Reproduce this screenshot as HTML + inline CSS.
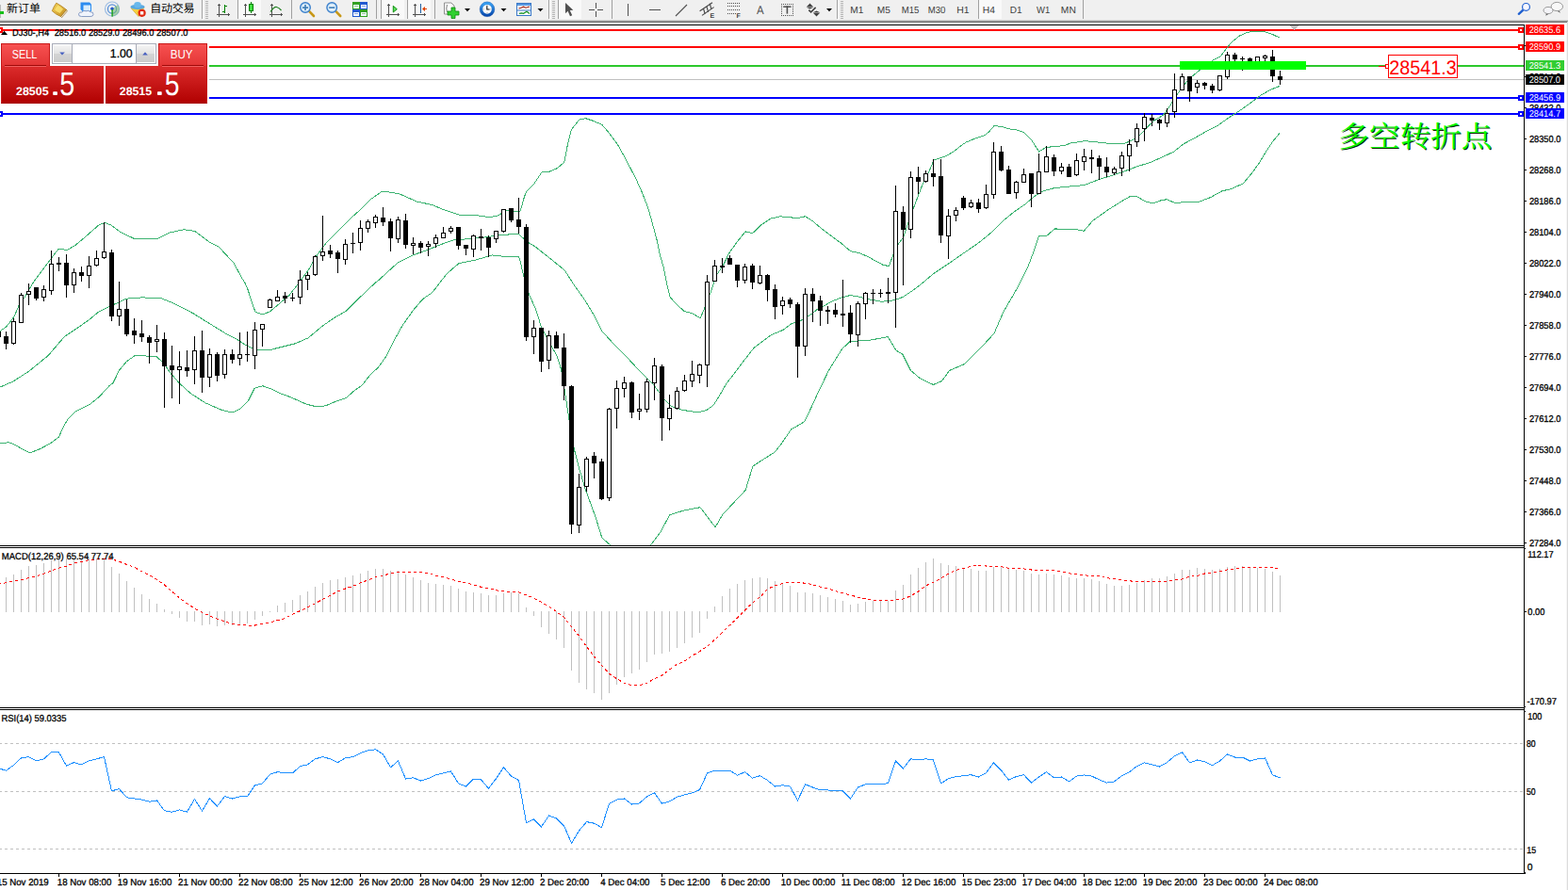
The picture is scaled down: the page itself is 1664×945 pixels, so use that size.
<!DOCTYPE html>
<html><head><meta charset="utf-8"><title>DJ30-,H4</title>
<style>
html,body{margin:0;padding:0;background:#fff;}
body{width:1664px;height:945px;overflow:hidden;font-family:"Liberation Sans",sans-serif;}
svg{display:block;position:absolute;left:0;top:0;}
svg text{font-family:"Liberation Sans",sans-serif;text-rendering:geometricPrecision;}
</style></head><body>
<svg width="1664" height="945" viewBox="0 0 1664 945">
<rect x="0" y="0" width="1664" height="945" fill="#fff"/>
<g shape-rendering="crispEdges">
<rect x="0" y="26" width="1618" height="1" fill="#000"/>
<rect x="1617" y="26" width="1" height="902" fill="#000"/>
<rect x="0" y="579" width="1618" height="1" fill="#000"/>
<rect x="0" y="581" width="1618" height="1" fill="#000"/>
<rect x="0" y="751" width="1618" height="1" fill="#000"/>
<rect x="0" y="753" width="1618" height="1" fill="#000"/>
<rect x="0" y="927" width="1619" height="1" fill="#000"/>
<defs><clipPath id="cm"><rect x="0" y="27" width="1617" height="552"/></clipPath><clipPath id="c2"><rect x="0" y="582" width="1617" height="169"/></clipPath><clipPath id="c3"><rect x="0" y="754" width="1617" height="173"/></clipPath></defs>
<rect x="222" y="84" width="1395" height="1" fill="#c0c0c0"/>
<rect x="0" y="31" width="1617" height="2" fill="#ff0000"/>
<rect x="222" y="49" width="1395" height="2" fill="#ff0000"/>
<rect x="222" y="69" width="1395" height="2" fill="#2cc82c"/>
<rect x="222" y="103" width="1395" height="2" fill="#0000ff"/>
<rect x="0" y="120" width="1617" height="2" fill="#0000ff"/>
<g clip-path="url(#cm)">
<polyline points="-1.5,352.5 0.5,351.2 6.8,346.9 14.8,336.5 20.3,323.9 25.9,316.0 34.6,300.9 43.4,289.0 52.9,276.3 61.6,264.9 66.4,264.4 70.3,266.0 79.9,260.4 89.4,252.5 98.9,244.2 104.5,239.2 111.3,236.4 118.2,239.2 127.3,246.0 143.2,253.9 154.5,253.3 165.9,253.9 179.5,247.1 195.5,243.7 206.9,245.5 222.8,257.4 231.9,261.9 247.9,279.0 256.5,294.9 260.0,300.5 263.4,308.5 266.7,319.1 271.0,331.3 278.6,333.9 286.2,331.0 296.4,322.5 302.0,317.7 306.5,314.0 313.4,305.2 327.1,287.0 336.2,271.1 347.5,256.3 358.9,244.9 370.3,233.5 381.7,223.3 393.1,211.9 404.4,203.9 410.5,203.5 416.5,204.6 424.4,206.1 442.6,214.1 458.6,217.5 472.2,223.2 488.2,228.4 506.4,228.8 520.0,230.7 529.1,228.8 535.9,223.8 552.0,224.3 554.2,217.5 556.5,208.7 559.0,202.8 566.7,195.2 574.8,183.0 583.6,182.0 591.2,178.7 598.8,172.3 602.2,154.5 606.4,137.6 614.9,126.9 621.7,125.7 629.3,128.3 638.6,132.2 646.2,141.0 655.6,153.7 664.9,170.6 675.0,190.1 681.8,205.3 687.7,220.6 692.0,235.8 697.0,254.4 700.4,270.5 704.5,285.1 707.5,300.5 711.3,315.8 718.5,323.5 726.1,330.6 734.1,332.4 743.2,337.9 747.7,327.2 753.4,312.4 757.5,300.5 760.5,292.1 767.3,281.9 774.0,268.4 782.5,256.5 791.0,245.9 798.6,247.7 807.9,238.8 818.1,232.0 828.2,229.8 836.7,230.6 846.0,231.6 854.5,229.8 862.1,234.5 872.3,243.0 882.4,250.6 892.6,258.2 902.7,266.7 911.2,268.4 920.5,272.3 925.1,274.8 936.5,281.0 943.3,282.7 948.4,269.2 953.4,259.0 958.5,252.3 964.4,235.3 970.4,218.4 978.8,196.4 985.6,182.8 991.0,170.1 1004.2,165.6 1012.7,160.5 1020.5,154.2 1024.7,151.3 1030.7,148.7 1037.4,146.2 1045.9,143.2 1050.1,139.4 1054.8,133.9 1058.6,133.9 1064.5,134.8 1071.3,136.9 1079.7,138.1 1086.5,140.7 1095.0,149.1 1102.6,161.0 1110.2,156.3 1122.0,155.5 1130.5,154.2 1135.9,152.1 1151.1,149.6 1164.7,151.0 1179.9,152.7 1193.5,152.1 1200.3,149.6 1207.0,145.4 1213.8,139.4 1218.9,133.5 1225.6,127.6 1234.1,122.5 1239.3,115.9 1246.9,104.1 1254.5,92.2 1263.0,82.9 1273.1,74.4 1286.7,64.3 1295.1,60.1 1300.2,53.3 1307.0,44.8 1315.5,38.0 1323.9,34.3 1330.7,33.3 1340.9,33.3 1349.3,36.0 1358.1,40.1" fill="none" stroke="#3cb371" stroke-width="1" />
<polyline points="-1.5,411.5 0.5,410.9 14.0,405.0 31.0,394.0 49.6,378.8 52.9,375.5 68.2,357.6 83.0,347.7 95.3,339.0 104.5,331.3 118.2,324.5 134.1,317.2 150.0,315.9 170.5,316.5 181.9,321.1 204.6,332.5 231.9,349.5 240.5,354.7 250.7,359.8 260.8,366.5 267.6,369.9 274.4,372.0 286.2,371.6 299.8,368.2 313.3,364.8 326.9,358.9 342.1,346.2 355.6,336.9 367.5,330.1 381.0,316.6 398.0,300.5 402.2,297.2 408.5,291.4 422.2,278.9 438.1,270.9 454.0,265.3 467.7,259.6 481.3,255.0 499.5,253.4 517.7,251.6 531.4,249.3 550.7,248.6 558.7,256.2 568.5,262.3 586.6,276.7 599.2,286.9 609.4,302.9 620.8,318.8 631.0,335.9 639.0,351.8 650.4,364.3 664.0,378.0 679.9,395.0 693.6,408.7 705.7,424.7 712.5,431.5 724.4,435.4 741.3,437.9 749.8,435.4 756.8,430.7 763.3,420.5 770.5,408.0 784.2,389.8 800.1,369.3 818.3,355.6 830.8,350.5 840.1,343.7 848.5,341.2 856.5,336.5 862.8,332.3 867.1,328.6 873.4,325.4 883.0,319.8 892.5,316.2 902.0,313.6 907.3,314.3 913.6,315.6 924.2,318.2 934.8,320.1 944.3,319.8 951.7,317.8 958.1,315.4 965.5,310.6 972.9,305.3 978.2,301.1 990.9,290.5 1007.6,279.3 1024.5,267.5 1038.1,258.2 1051.6,247.2 1063.5,235.3 1077.0,224.3 1088.5,216.5 1097.0,208.9 1107.1,202.9 1119.0,199.6 1135.9,197.9 1151.1,196.5 1164.7,191.1 1178.2,186.9 1193.5,181.8 1207.0,176.7 1220.6,172.5 1234.1,166.5 1245.7,161.1 1255.9,152.9 1266.4,147.3 1279.9,139.6 1291.8,133.7 1303.6,125.2 1315.5,117.6 1327.3,109.2 1337.5,101.5 1347.6,95.6 1358.1,91.4" fill="none" stroke="#3cb371" stroke-width="1" />
<polyline points="-1.5,470.9 0.5,470.7 9.0,469.8 14.0,471.4 22.5,476.1 31.8,480.9 42.8,476.5 53.0,471.0 62.3,464.3 66.5,455.0 71.6,445.6 80.1,436.8 95.3,429.5 105.5,421.1 115.9,409.8 119.9,406.7 126.6,393.1 134.3,383.8 142.7,377.9 152.9,377.9 165.9,378.5 172.8,384.8 181.9,397.3 191.0,407.6 202.4,417.8 218.3,428.0 234.2,434.9 240.5,436.8 247.3,437.6 254.9,434.3 263.4,425.8 270.1,412.3 278.6,409.7 286.2,412.3 296.4,417.3 308.2,421.6 325.2,429.2 335.3,431.7 345.5,430.9 357.3,425.8 367.5,422.4 376.0,414.8 384.4,408.9 392.9,397.9 401.4,390.2 409.8,378.4 418.3,361.5 426.7,346.2 438.6,329.3 448.8,317.4 458.6,310.8 466.5,300.5 474.5,290.3 487.0,279.6 504.1,276.2 522.3,270.9 535.9,272.5 550.7,272.8 552.5,279.0 555.9,293.8 561.6,313.1 568.4,327.9 574.1,346.1 582.1,362.1 591.2,378.0 595.7,392.8 599.2,414.4 603.8,444.5 609.3,476.8 615.2,499.3 621.0,518.9 631.8,548.3 638.7,570.8 648.5,579.5 660.5,592.5 678.5,592.5 690.5,578.8 700.7,565.3 710.8,546.6 724.4,542.4 743.0,538.7 759.1,559.7 766.7,546.6 778.5,533.9 791.2,520.4 798.9,495.0 810.7,487.4 822.6,479.8 829.7,470.5 839.5,456.1 853.9,447.6 864.5,425.0 866.5,420.5 879.4,393.4 893.6,370.5 902.2,362.5 922.2,361.4 942.2,357.6 950.8,371.9 957.9,376.2 966.5,393.4 976.5,401.9 990.5,408.5 999.6,404.5 1007.6,393.4 1022.7,387.0 1040.8,369.3 1054.9,354.2 1064.9,331.1 1079.0,306.9 1091.1,282.8 1097.1,266.7 1102.8,250.0 1111.2,250.0 1119.2,243.0 1139.3,243.1 1150.3,245.3 1159.6,234.3 1176.5,222.4 1190.1,213.9 1198.6,208.9 1207.0,208.9 1215.5,213.9 1224.0,216.0 1230.5,213.2 1238.1,211.7 1247.6,215.7 1258.4,214.2 1271.1,214.8 1285.1,209.4 1296.5,203.0 1306.7,200.5 1319.4,194.8 1328.3,184.0 1335.9,173.8 1343.5,161.1 1351.1,149.7 1358.1,141.4" fill="none" stroke="#3cb371" stroke-width="1" />
<rect x="-2" y="352" width="1" height="6" fill="#000"/>
<rect x="-4" y="352" width="5" height="6" fill="#000"/>
<rect x="6" y="352" width="1" height="19" fill="#000"/>
<rect x="4" y="357" width="5" height="8" fill="#000"/>
<rect x="14" y="338" width="1" height="28" fill="#000"/>
<rect x="12" y="341" width="5" height="24" fill="#000"/>
<rect x="13" y="342" width="3" height="22" fill="#fff"/>
<rect x="22" y="311" width="1" height="32" fill="#000"/>
<rect x="20" y="313" width="5" height="30" fill="#000"/>
<rect x="21" y="314" width="3" height="28" fill="#fff"/>
<rect x="30" y="301" width="1" height="23" fill="#000"/>
<rect x="28" y="309" width="5" height="4" fill="#000"/>
<rect x="29" y="310" width="3" height="2" fill="#fff"/>
<rect x="38" y="305" width="1" height="14" fill="#000"/>
<rect x="36" y="305" width="5" height="12" fill="#000"/>
<rect x="46" y="303" width="1" height="17" fill="#000"/>
<rect x="44" y="307" width="5" height="9" fill="#000"/>
<rect x="45" y="308" width="3" height="7" fill="#fff"/>
<rect x="54" y="266" width="1" height="47" fill="#000"/>
<rect x="52" y="280" width="5" height="29" fill="#000"/>
<rect x="53" y="281" width="3" height="27" fill="#fff"/>
<rect x="62" y="273" width="1" height="15" fill="#000"/>
<rect x="60" y="279" width="5" height="2" fill="#000"/>
<rect x="70" y="270" width="1" height="46" fill="#000"/>
<rect x="68" y="279" width="5" height="24" fill="#000"/>
<rect x="78" y="285" width="1" height="26" fill="#000"/>
<rect x="76" y="289" width="5" height="14" fill="#000"/>
<rect x="77" y="290" width="3" height="12" fill="#fff"/>
<rect x="86" y="283" width="1" height="16" fill="#000"/>
<rect x="84" y="289" width="5" height="4" fill="#000"/>
<rect x="94" y="272" width="1" height="34" fill="#000"/>
<rect x="92" y="282" width="5" height="11" fill="#000"/>
<rect x="93" y="283" width="3" height="9" fill="#fff"/>
<rect x="102" y="266" width="1" height="17" fill="#000"/>
<rect x="100" y="274" width="5" height="8" fill="#000"/>
<rect x="101" y="275" width="3" height="6" fill="#fff"/>
<rect x="110" y="236" width="1" height="39" fill="#000"/>
<rect x="108" y="267" width="5" height="7" fill="#000"/>
<rect x="109" y="268" width="3" height="5" fill="#fff"/>
<rect x="118" y="265" width="1" height="76" fill="#000"/>
<rect x="116" y="268" width="5" height="68" fill="#000"/>
<rect x="126" y="299" width="1" height="47" fill="#000"/>
<rect x="124" y="328" width="5" height="8" fill="#000"/>
<rect x="125" y="329" width="3" height="6" fill="#fff"/>
<rect x="134" y="318" width="1" height="39" fill="#000"/>
<rect x="132" y="328" width="5" height="27" fill="#000"/>
<rect x="142" y="338" width="1" height="27" fill="#000"/>
<rect x="140" y="351" width="5" height="5" fill="#000"/>
<rect x="150" y="340" width="1" height="23" fill="#000"/>
<rect x="148" y="354" width="5" height="4" fill="#000"/>
<rect x="158" y="356" width="1" height="30" fill="#000"/>
<rect x="156" y="358" width="5" height="6" fill="#000"/>
<rect x="166" y="345" width="1" height="29" fill="#000"/>
<rect x="164" y="360" width="5" height="3" fill="#000"/>
<rect x="165" y="361" width="3" height="1" fill="#fff"/>
<rect x="174" y="353" width="1" height="80" fill="#000"/>
<rect x="172" y="360" width="5" height="29" fill="#000"/>
<rect x="182" y="367" width="1" height="56" fill="#000"/>
<rect x="180" y="388" width="5" height="5" fill="#000"/>
<rect x="190" y="373" width="1" height="56" fill="#000"/>
<rect x="188" y="389" width="5" height="4" fill="#000"/>
<rect x="189" y="390" width="3" height="2" fill="#fff"/>
<rect x="198" y="372" width="1" height="28" fill="#000"/>
<rect x="196" y="390" width="5" height="4" fill="#000"/>
<rect x="206" y="357" width="1" height="51" fill="#000"/>
<rect x="204" y="372" width="5" height="21" fill="#000"/>
<rect x="205" y="373" width="3" height="19" fill="#fff"/>
<rect x="214" y="351" width="1" height="66" fill="#000"/>
<rect x="212" y="372" width="5" height="29" fill="#000"/>
<rect x="222" y="370" width="1" height="41" fill="#000"/>
<rect x="220" y="376" width="5" height="25" fill="#000"/>
<rect x="221" y="377" width="3" height="23" fill="#fff"/>
<rect x="230" y="374" width="1" height="31" fill="#000"/>
<rect x="228" y="376" width="5" height="23" fill="#000"/>
<rect x="238" y="371" width="1" height="31" fill="#000"/>
<rect x="236" y="376" width="5" height="22" fill="#000"/>
<rect x="237" y="377" width="3" height="20" fill="#fff"/>
<rect x="246" y="371" width="1" height="15" fill="#000"/>
<rect x="244" y="376" width="5" height="6" fill="#000"/>
<rect x="254" y="353" width="1" height="35" fill="#000"/>
<rect x="252" y="376" width="5" height="5" fill="#000"/>
<rect x="253" y="377" width="3" height="3" fill="#fff"/>
<rect x="262" y="352" width="1" height="32" fill="#000"/>
<rect x="260" y="376" width="5" height="1" fill="#000"/>
<rect x="270" y="342" width="1" height="50" fill="#000"/>
<rect x="268" y="350" width="5" height="28" fill="#000"/>
<rect x="269" y="351" width="3" height="26" fill="#fff"/>
<rect x="278" y="344" width="1" height="24" fill="#000"/>
<rect x="276" y="344" width="5" height="6" fill="#000"/>
<rect x="277" y="345" width="3" height="4" fill="#fff"/>
<rect x="286" y="317" width="1" height="10" fill="#000"/>
<rect x="284" y="318" width="5" height="9" fill="#000"/>
<rect x="285" y="319" width="3" height="7" fill="#fff"/>
<rect x="294" y="308" width="1" height="12" fill="#000"/>
<rect x="292" y="315" width="5" height="5" fill="#000"/>
<rect x="293" y="316" width="3" height="3" fill="#fff"/>
<rect x="302" y="310" width="1" height="12" fill="#000"/>
<rect x="300" y="314" width="5" height="3" fill="#000"/>
<rect x="310" y="311" width="1" height="9" fill="#000"/>
<rect x="308" y="316" width="5" height="1" fill="#000"/>
<rect x="318" y="287" width="1" height="36" fill="#000"/>
<rect x="316" y="297" width="5" height="19" fill="#000"/>
<rect x="317" y="298" width="3" height="17" fill="#fff"/>
<rect x="326" y="289" width="1" height="19" fill="#000"/>
<rect x="324" y="292" width="5" height="5" fill="#000"/>
<rect x="325" y="293" width="3" height="3" fill="#fff"/>
<rect x="334" y="271" width="1" height="22" fill="#000"/>
<rect x="332" y="272" width="5" height="20" fill="#000"/>
<rect x="333" y="273" width="3" height="18" fill="#fff"/>
<rect x="342" y="229" width="1" height="48" fill="#000"/>
<rect x="340" y="267" width="5" height="5" fill="#000"/>
<rect x="341" y="268" width="3" height="3" fill="#fff"/>
<rect x="350" y="260" width="1" height="14" fill="#000"/>
<rect x="348" y="266" width="5" height="4" fill="#000"/>
<rect x="358" y="266" width="1" height="24" fill="#000"/>
<rect x="356" y="268" width="5" height="7" fill="#000"/>
<rect x="366" y="254" width="1" height="27" fill="#000"/>
<rect x="364" y="259" width="5" height="17" fill="#000"/>
<rect x="365" y="260" width="3" height="15" fill="#fff"/>
<rect x="374" y="247" width="1" height="22" fill="#000"/>
<rect x="372" y="258" width="5" height="1" fill="#000"/>
<rect x="382" y="234" width="1" height="32" fill="#000"/>
<rect x="380" y="242" width="5" height="16" fill="#000"/>
<rect x="381" y="243" width="3" height="14" fill="#fff"/>
<rect x="390" y="233" width="1" height="14" fill="#000"/>
<rect x="388" y="235" width="5" height="8" fill="#000"/>
<rect x="389" y="236" width="3" height="6" fill="#fff"/>
<rect x="398" y="228" width="1" height="14" fill="#000"/>
<rect x="396" y="230" width="5" height="7" fill="#000"/>
<rect x="397" y="231" width="3" height="5" fill="#fff"/>
<rect x="406" y="220" width="1" height="20" fill="#000"/>
<rect x="404" y="231" width="5" height="5" fill="#000"/>
<rect x="414" y="232" width="1" height="35" fill="#000"/>
<rect x="412" y="235" width="5" height="18" fill="#000"/>
<rect x="422" y="230" width="1" height="28" fill="#000"/>
<rect x="420" y="233" width="5" height="21" fill="#000"/>
<rect x="421" y="234" width="3" height="19" fill="#fff"/>
<rect x="430" y="227" width="1" height="37" fill="#000"/>
<rect x="428" y="234" width="5" height="26" fill="#000"/>
<rect x="438" y="252" width="1" height="18" fill="#000"/>
<rect x="436" y="258" width="5" height="3" fill="#000"/>
<rect x="437" y="259" width="3" height="1" fill="#fff"/>
<rect x="446" y="256" width="1" height="13" fill="#000"/>
<rect x="444" y="258" width="5" height="5" fill="#000"/>
<rect x="454" y="256" width="1" height="16" fill="#000"/>
<rect x="452" y="259" width="5" height="3" fill="#000"/>
<rect x="453" y="260" width="3" height="1" fill="#fff"/>
<rect x="462" y="249" width="1" height="14" fill="#000"/>
<rect x="460" y="252" width="5" height="7" fill="#000"/>
<rect x="461" y="253" width="3" height="5" fill="#fff"/>
<rect x="470" y="241" width="1" height="12" fill="#000"/>
<rect x="468" y="247" width="5" height="6" fill="#000"/>
<rect x="469" y="248" width="3" height="4" fill="#fff"/>
<rect x="478" y="240" width="1" height="8" fill="#000"/>
<rect x="476" y="242" width="5" height="4" fill="#000"/>
<rect x="477" y="243" width="3" height="2" fill="#fff"/>
<rect x="486" y="241" width="1" height="24" fill="#000"/>
<rect x="484" y="241" width="5" height="20" fill="#000"/>
<rect x="494" y="260" width="1" height="11" fill="#000"/>
<rect x="492" y="260" width="5" height="4" fill="#000"/>
<rect x="502" y="249" width="1" height="24" fill="#000"/>
<rect x="500" y="250" width="5" height="15" fill="#000"/>
<rect x="501" y="251" width="3" height="13" fill="#fff"/>
<rect x="510" y="243" width="1" height="23" fill="#000"/>
<rect x="508" y="251" width="5" height="2" fill="#000"/>
<rect x="518" y="250" width="1" height="23" fill="#000"/>
<rect x="516" y="252" width="5" height="11" fill="#000"/>
<rect x="526" y="245" width="1" height="13" fill="#000"/>
<rect x="524" y="245" width="5" height="9" fill="#000"/>
<rect x="525" y="246" width="3" height="7" fill="#fff"/>
<rect x="534" y="222" width="1" height="25" fill="#000"/>
<rect x="532" y="222" width="5" height="24" fill="#000"/>
<rect x="533" y="223" width="3" height="22" fill="#fff"/>
<rect x="542" y="221" width="1" height="15" fill="#000"/>
<rect x="540" y="221" width="5" height="13" fill="#000"/>
<rect x="550" y="210" width="1" height="38" fill="#000"/>
<rect x="548" y="233" width="5" height="8" fill="#000"/>
<rect x="558" y="238" width="1" height="124" fill="#000"/>
<rect x="556" y="241" width="5" height="117" fill="#000"/>
<rect x="566" y="340" width="1" height="36" fill="#000"/>
<rect x="564" y="348" width="5" height="10" fill="#000"/>
<rect x="565" y="349" width="3" height="8" fill="#fff"/>
<rect x="574" y="348" width="1" height="47" fill="#000"/>
<rect x="572" y="348" width="5" height="36" fill="#000"/>
<rect x="582" y="351" width="1" height="41" fill="#000"/>
<rect x="580" y="356" width="5" height="27" fill="#000"/>
<rect x="581" y="357" width="3" height="25" fill="#fff"/>
<rect x="590" y="352" width="1" height="18" fill="#000"/>
<rect x="588" y="356" width="5" height="14" fill="#000"/>
<rect x="598" y="354" width="1" height="71" fill="#000"/>
<rect x="596" y="369" width="5" height="41" fill="#000"/>
<rect x="606" y="409" width="1" height="158" fill="#000"/>
<rect x="604" y="410" width="5" height="147" fill="#000"/>
<rect x="614" y="503" width="1" height="63" fill="#000"/>
<rect x="612" y="517" width="5" height="41" fill="#000"/>
<rect x="613" y="518" width="3" height="39" fill="#fff"/>
<rect x="622" y="485" width="1" height="37" fill="#000"/>
<rect x="620" y="487" width="5" height="30" fill="#000"/>
<rect x="621" y="488" width="3" height="28" fill="#fff"/>
<rect x="630" y="480" width="1" height="28" fill="#000"/>
<rect x="628" y="484" width="5" height="8" fill="#000"/>
<rect x="638" y="487" width="1" height="44" fill="#000"/>
<rect x="636" y="490" width="5" height="40" fill="#000"/>
<rect x="646" y="433" width="1" height="99" fill="#000"/>
<rect x="644" y="434" width="5" height="95" fill="#000"/>
<rect x="645" y="435" width="3" height="93" fill="#fff"/>
<rect x="654" y="404" width="1" height="51" fill="#000"/>
<rect x="652" y="412" width="5" height="22" fill="#000"/>
<rect x="653" y="413" width="3" height="20" fill="#fff"/>
<rect x="662" y="400" width="1" height="22" fill="#000"/>
<rect x="660" y="406" width="5" height="7" fill="#000"/>
<rect x="661" y="407" width="3" height="5" fill="#fff"/>
<rect x="670" y="405" width="1" height="39" fill="#000"/>
<rect x="668" y="406" width="5" height="32" fill="#000"/>
<rect x="678" y="418" width="1" height="28" fill="#000"/>
<rect x="676" y="434" width="5" height="3" fill="#000"/>
<rect x="677" y="435" width="3" height="1" fill="#fff"/>
<rect x="686" y="402" width="1" height="36" fill="#000"/>
<rect x="684" y="405" width="5" height="30" fill="#000"/>
<rect x="685" y="406" width="3" height="28" fill="#fff"/>
<rect x="694" y="380" width="1" height="45" fill="#000"/>
<rect x="692" y="388" width="5" height="19" fill="#000"/>
<rect x="693" y="389" width="3" height="17" fill="#fff"/>
<rect x="702" y="387" width="1" height="81" fill="#000"/>
<rect x="700" y="389" width="5" height="55" fill="#000"/>
<rect x="710" y="419" width="1" height="38" fill="#000"/>
<rect x="708" y="433" width="5" height="12" fill="#000"/>
<rect x="709" y="434" width="3" height="10" fill="#fff"/>
<rect x="718" y="411" width="1" height="24" fill="#000"/>
<rect x="716" y="415" width="5" height="19" fill="#000"/>
<rect x="717" y="416" width="3" height="17" fill="#fff"/>
<rect x="726" y="398" width="1" height="18" fill="#000"/>
<rect x="724" y="404" width="5" height="11" fill="#000"/>
<rect x="725" y="405" width="3" height="9" fill="#fff"/>
<rect x="734" y="383" width="1" height="28" fill="#000"/>
<rect x="732" y="397" width="5" height="8" fill="#000"/>
<rect x="733" y="398" width="3" height="6" fill="#fff"/>
<rect x="742" y="386" width="1" height="21" fill="#000"/>
<rect x="740" y="387" width="5" height="12" fill="#000"/>
<rect x="741" y="388" width="3" height="10" fill="#fff"/>
<rect x="750" y="292" width="1" height="119" fill="#000"/>
<rect x="748" y="299" width="5" height="89" fill="#000"/>
<rect x="749" y="300" width="3" height="87" fill="#fff"/>
<rect x="758" y="276" width="1" height="23" fill="#000"/>
<rect x="756" y="282" width="5" height="17" fill="#000"/>
<rect x="757" y="283" width="3" height="15" fill="#fff"/>
<rect x="766" y="274" width="1" height="16" fill="#000"/>
<rect x="764" y="282" width="5" height="2" fill="#000"/>
<rect x="774" y="271" width="1" height="10" fill="#000"/>
<rect x="772" y="274" width="5" height="7" fill="#000"/>
<rect x="782" y="281" width="1" height="24" fill="#000"/>
<rect x="780" y="281" width="5" height="17" fill="#000"/>
<rect x="790" y="280" width="1" height="21" fill="#000"/>
<rect x="788" y="283" width="5" height="15" fill="#000"/>
<rect x="789" y="284" width="3" height="13" fill="#fff"/>
<rect x="798" y="280" width="1" height="27" fill="#000"/>
<rect x="796" y="282" width="5" height="18" fill="#000"/>
<rect x="806" y="282" width="1" height="20" fill="#000"/>
<rect x="804" y="292" width="5" height="9" fill="#000"/>
<rect x="805" y="293" width="3" height="7" fill="#fff"/>
<rect x="814" y="291" width="1" height="29" fill="#000"/>
<rect x="812" y="292" width="5" height="16" fill="#000"/>
<rect x="822" y="302" width="1" height="37" fill="#000"/>
<rect x="820" y="307" width="5" height="19" fill="#000"/>
<rect x="830" y="315" width="1" height="19" fill="#000"/>
<rect x="828" y="319" width="5" height="6" fill="#000"/>
<rect x="829" y="320" width="3" height="4" fill="#fff"/>
<rect x="838" y="316" width="1" height="11" fill="#000"/>
<rect x="836" y="318" width="5" height="5" fill="#000"/>
<rect x="846" y="321" width="1" height="80" fill="#000"/>
<rect x="844" y="323" width="5" height="45" fill="#000"/>
<rect x="854" y="306" width="1" height="72" fill="#000"/>
<rect x="852" y="312" width="5" height="56" fill="#000"/>
<rect x="853" y="313" width="3" height="54" fill="#fff"/>
<rect x="862" y="306" width="1" height="36" fill="#000"/>
<rect x="860" y="312" width="5" height="8" fill="#000"/>
<rect x="870" y="314" width="1" height="32" fill="#000"/>
<rect x="868" y="319" width="5" height="11" fill="#000"/>
<rect x="878" y="325" width="1" height="19" fill="#000"/>
<rect x="876" y="329" width="5" height="2" fill="#000"/>
<rect x="886" y="322" width="1" height="15" fill="#000"/>
<rect x="884" y="329" width="5" height="5" fill="#000"/>
<rect x="894" y="297" width="1" height="50" fill="#000"/>
<rect x="892" y="333" width="5" height="2" fill="#000"/>
<rect x="902" y="324" width="1" height="40" fill="#000"/>
<rect x="900" y="332" width="5" height="23" fill="#000"/>
<rect x="910" y="320" width="1" height="48" fill="#000"/>
<rect x="908" y="322" width="5" height="34" fill="#000"/>
<rect x="909" y="323" width="3" height="32" fill="#fff"/>
<rect x="918" y="310" width="1" height="29" fill="#000"/>
<rect x="916" y="311" width="5" height="12" fill="#000"/>
<rect x="917" y="312" width="3" height="10" fill="#fff"/>
<rect x="926" y="307" width="1" height="16" fill="#000"/>
<rect x="924" y="311" width="5" height="1" fill="#000"/>
<rect x="934" y="307" width="1" height="9" fill="#000"/>
<rect x="932" y="311" width="5" height="1" fill="#000"/>
<rect x="942" y="295" width="1" height="27" fill="#000"/>
<rect x="940" y="310" width="5" height="2" fill="#000"/>
<rect x="950" y="197" width="1" height="151" fill="#000"/>
<rect x="948" y="224" width="5" height="87" fill="#000"/>
<rect x="949" y="225" width="3" height="85" fill="#fff"/>
<rect x="958" y="219" width="1" height="84" fill="#000"/>
<rect x="956" y="225" width="5" height="19" fill="#000"/>
<rect x="966" y="182" width="1" height="71" fill="#000"/>
<rect x="964" y="188" width="5" height="56" fill="#000"/>
<rect x="965" y="189" width="3" height="54" fill="#fff"/>
<rect x="974" y="177" width="1" height="29" fill="#000"/>
<rect x="972" y="188" width="5" height="5" fill="#000"/>
<rect x="982" y="181" width="1" height="13" fill="#000"/>
<rect x="980" y="184" width="5" height="9" fill="#000"/>
<rect x="981" y="185" width="3" height="7" fill="#fff"/>
<rect x="990" y="169" width="1" height="29" fill="#000"/>
<rect x="988" y="184" width="5" height="4" fill="#000"/>
<rect x="998" y="169" width="1" height="89" fill="#000"/>
<rect x="996" y="187" width="5" height="63" fill="#000"/>
<rect x="1006" y="222" width="1" height="53" fill="#000"/>
<rect x="1004" y="229" width="5" height="22" fill="#000"/>
<rect x="1005" y="230" width="3" height="20" fill="#fff"/>
<rect x="1014" y="220" width="1" height="15" fill="#000"/>
<rect x="1012" y="223" width="5" height="6" fill="#000"/>
<rect x="1013" y="224" width="3" height="4" fill="#fff"/>
<rect x="1022" y="208" width="1" height="15" fill="#000"/>
<rect x="1020" y="210" width="5" height="11" fill="#000"/>
<rect x="1030" y="212" width="1" height="9" fill="#000"/>
<rect x="1028" y="215" width="5" height="5" fill="#000"/>
<rect x="1029" y="216" width="3" height="3" fill="#fff"/>
<rect x="1038" y="211" width="1" height="15" fill="#000"/>
<rect x="1036" y="215" width="5" height="7" fill="#000"/>
<rect x="1046" y="196" width="1" height="26" fill="#000"/>
<rect x="1044" y="206" width="5" height="15" fill="#000"/>
<rect x="1045" y="207" width="3" height="13" fill="#fff"/>
<rect x="1054" y="151" width="1" height="60" fill="#000"/>
<rect x="1052" y="161" width="5" height="46" fill="#000"/>
<rect x="1053" y="162" width="3" height="44" fill="#fff"/>
<rect x="1062" y="155" width="1" height="27" fill="#000"/>
<rect x="1060" y="161" width="5" height="20" fill="#000"/>
<rect x="1070" y="176" width="1" height="30" fill="#000"/>
<rect x="1068" y="180" width="5" height="26" fill="#000"/>
<rect x="1078" y="192" width="1" height="19" fill="#000"/>
<rect x="1076" y="193" width="5" height="12" fill="#000"/>
<rect x="1077" y="194" width="3" height="10" fill="#fff"/>
<rect x="1086" y="179" width="1" height="15" fill="#000"/>
<rect x="1084" y="185" width="5" height="9" fill="#000"/>
<rect x="1085" y="186" width="3" height="7" fill="#fff"/>
<rect x="1094" y="184" width="1" height="36" fill="#000"/>
<rect x="1092" y="184" width="5" height="22" fill="#000"/>
<rect x="1102" y="163" width="1" height="43" fill="#000"/>
<rect x="1100" y="182" width="5" height="24" fill="#000"/>
<rect x="1101" y="183" width="3" height="22" fill="#fff"/>
<rect x="1110" y="155" width="1" height="28" fill="#000"/>
<rect x="1108" y="166" width="5" height="17" fill="#000"/>
<rect x="1109" y="167" width="3" height="15" fill="#fff"/>
<rect x="1118" y="164" width="1" height="23" fill="#000"/>
<rect x="1116" y="167" width="5" height="15" fill="#000"/>
<rect x="1126" y="173" width="1" height="12" fill="#000"/>
<rect x="1124" y="177" width="5" height="5" fill="#000"/>
<rect x="1125" y="178" width="3" height="3" fill="#fff"/>
<rect x="1134" y="174" width="1" height="14" fill="#000"/>
<rect x="1132" y="177" width="5" height="11" fill="#000"/>
<rect x="1142" y="163" width="1" height="24" fill="#000"/>
<rect x="1140" y="170" width="5" height="16" fill="#000"/>
<rect x="1141" y="171" width="3" height="14" fill="#fff"/>
<rect x="1150" y="158" width="1" height="23" fill="#000"/>
<rect x="1148" y="166" width="5" height="6" fill="#000"/>
<rect x="1149" y="167" width="3" height="4" fill="#fff"/>
<rect x="1158" y="159" width="1" height="25" fill="#000"/>
<rect x="1156" y="167" width="5" height="2" fill="#000"/>
<rect x="1166" y="165" width="1" height="26" fill="#000"/>
<rect x="1164" y="168" width="5" height="9" fill="#000"/>
<rect x="1174" y="167" width="1" height="21" fill="#000"/>
<rect x="1172" y="177" width="5" height="6" fill="#000"/>
<rect x="1182" y="177" width="1" height="9" fill="#000"/>
<rect x="1180" y="179" width="5" height="5" fill="#000"/>
<rect x="1181" y="180" width="3" height="3" fill="#fff"/>
<rect x="1190" y="161" width="1" height="26" fill="#000"/>
<rect x="1188" y="165" width="5" height="14" fill="#000"/>
<rect x="1189" y="166" width="3" height="12" fill="#fff"/>
<rect x="1198" y="148" width="1" height="34" fill="#000"/>
<rect x="1196" y="153" width="5" height="13" fill="#000"/>
<rect x="1197" y="154" width="3" height="11" fill="#fff"/>
<rect x="1206" y="131" width="1" height="25" fill="#000"/>
<rect x="1204" y="136" width="5" height="15" fill="#000"/>
<rect x="1205" y="137" width="3" height="13" fill="#fff"/>
<rect x="1214" y="120" width="1" height="30" fill="#000"/>
<rect x="1212" y="124" width="5" height="13" fill="#000"/>
<rect x="1213" y="125" width="3" height="11" fill="#fff"/>
<rect x="1222" y="121" width="1" height="13" fill="#000"/>
<rect x="1220" y="125" width="5" height="3" fill="#000"/>
<rect x="1230" y="126" width="1" height="12" fill="#000"/>
<rect x="1228" y="127" width="5" height="4" fill="#000"/>
<rect x="1238" y="115" width="1" height="20" fill="#000"/>
<rect x="1236" y="120" width="5" height="11" fill="#000"/>
<rect x="1237" y="121" width="3" height="9" fill="#fff"/>
<rect x="1246" y="78" width="1" height="47" fill="#000"/>
<rect x="1244" y="95" width="5" height="24" fill="#000"/>
<rect x="1245" y="96" width="3" height="22" fill="#fff"/>
<rect x="1254" y="78" width="1" height="18" fill="#000"/>
<rect x="1252" y="81" width="5" height="15" fill="#000"/>
<rect x="1253" y="82" width="3" height="13" fill="#fff"/>
<rect x="1262" y="81" width="1" height="27" fill="#000"/>
<rect x="1260" y="81" width="5" height="16" fill="#000"/>
<rect x="1270" y="85" width="1" height="14" fill="#000"/>
<rect x="1268" y="88" width="5" height="5" fill="#000"/>
<rect x="1269" y="89" width="3" height="3" fill="#fff"/>
<rect x="1278" y="87" width="1" height="8" fill="#000"/>
<rect x="1276" y="88" width="5" height="3" fill="#000"/>
<rect x="1286" y="89" width="1" height="10" fill="#000"/>
<rect x="1284" y="91" width="5" height="5" fill="#000"/>
<rect x="1294" y="80" width="1" height="17" fill="#000"/>
<rect x="1292" y="80" width="5" height="16" fill="#000"/>
<rect x="1293" y="81" width="3" height="14" fill="#fff"/>
<rect x="1302" y="55" width="1" height="29" fill="#000"/>
<rect x="1300" y="58" width="5" height="24" fill="#000"/>
<rect x="1301" y="59" width="3" height="22" fill="#fff"/>
<rect x="1310" y="56" width="1" height="10" fill="#000"/>
<rect x="1308" y="58" width="5" height="5" fill="#000"/>
<rect x="1318" y="60" width="1" height="15" fill="#000"/>
<rect x="1316" y="62" width="5" height="1" fill="#000"/>
<rect x="1326" y="61" width="1" height="5" fill="#000"/>
<rect x="1324" y="62" width="5" height="4" fill="#000"/>
<rect x="1334" y="60" width="1" height="8" fill="#000"/>
<rect x="1332" y="60" width="5" height="8" fill="#000"/>
<rect x="1333" y="61" width="3" height="6" fill="#fff"/>
<rect x="1342" y="58" width="1" height="8" fill="#000"/>
<rect x="1340" y="59" width="5" height="3" fill="#000"/>
<rect x="1341" y="60" width="3" height="1" fill="#fff"/>
<rect x="1350" y="53" width="1" height="34" fill="#000"/>
<rect x="1348" y="60" width="5" height="21" fill="#000"/>
<rect x="1358" y="75" width="1" height="15" fill="#000"/>
<rect x="1356" y="81" width="5" height="4" fill="#000"/>
</g>
<rect x="1252" y="65" width="134" height="9" fill="#00ff00"/>
<rect x="1611" y="29" width="6" height="6" fill="#ff0000"/><rect x="1613" y="31" width="2" height="2" fill="#fff"/>
<rect x="1611" y="47" width="6" height="6" fill="#ff0000"/><rect x="1613" y="49" width="2" height="2" fill="#fff"/>
<rect x="1611" y="101" width="6" height="6" fill="#0000ff"/><rect x="1613" y="103" width="2" height="2" fill="#fff"/>
<rect x="1611" y="118" width="6" height="6" fill="#0000ff"/><rect x="1613" y="120" width="2" height="2" fill="#fff"/>
<rect x="0" y="29" width="3" height="6" fill="#ff0000"/><rect x="0" y="31" width="1" height="2" fill="#fff"/>
<rect x="0" y="118" width="3" height="6" fill="#0000ff"/><rect x="0" y="120" width="1" height="2" fill="#fff"/>
<path d="M1368 27 H1378 L1373 32 Z" fill="#c0c0c0"/>
<path d="M1 37 L4.5 32.8 L8 37 Z" fill="#000" shape-rendering="auto"/>
<rect x="1463" y="70" width="8" height="1" fill="#ff0000"/>
<rect x="1470.5" y="68.5" width="3" height="4" fill="#fff" stroke="#ff0000" stroke-width="1"/>
<rect x="1473.5" y="58.5" width="73" height="24" fill="#fff" stroke="#ff0000" stroke-width="1"/>
<g clip-path="url(#c2)">
<rect x="6" y="613" width="1" height="37" fill="#c0c0c0"/>
<rect x="14" y="610" width="1" height="40" fill="#c0c0c0"/>
<rect x="22" y="605" width="1" height="45" fill="#c0c0c0"/>
<rect x="30" y="601" width="1" height="49" fill="#c0c0c0"/>
<rect x="38" y="600" width="1" height="50" fill="#c0c0c0"/>
<rect x="46" y="598" width="1" height="52" fill="#c0c0c0"/>
<rect x="54" y="595" width="1" height="55" fill="#c0c0c0"/>
<rect x="62" y="594" width="1" height="56" fill="#c0c0c0"/>
<rect x="70" y="593" width="1" height="57" fill="#c0c0c0"/>
<rect x="78" y="593" width="1" height="57" fill="#c0c0c0"/>
<rect x="86" y="594" width="1" height="56" fill="#c0c0c0"/>
<rect x="94" y="593" width="1" height="57" fill="#c0c0c0"/>
<rect x="102" y="593" width="1" height="57" fill="#c0c0c0"/>
<rect x="110" y="594" width="1" height="56" fill="#c0c0c0"/>
<rect x="118" y="602" width="1" height="48" fill="#c0c0c0"/>
<rect x="126" y="609" width="1" height="41" fill="#c0c0c0"/>
<rect x="134" y="617" width="1" height="33" fill="#c0c0c0"/>
<rect x="142" y="624" width="1" height="26" fill="#c0c0c0"/>
<rect x="150" y="631" width="1" height="19" fill="#c0c0c0"/>
<rect x="158" y="636" width="1" height="14" fill="#c0c0c0"/>
<rect x="166" y="641" width="1" height="9" fill="#c0c0c0"/>
<rect x="174" y="647" width="1" height="3" fill="#c0c0c0"/>
<rect x="182" y="649" width="1" height="3" fill="#c0c0c0"/>
<rect x="190" y="649" width="1" height="7" fill="#c0c0c0"/>
<rect x="198" y="649" width="1" height="11" fill="#c0c0c0"/>
<rect x="206" y="649" width="1" height="11" fill="#c0c0c0"/>
<rect x="214" y="649" width="1" height="15" fill="#c0c0c0"/>
<rect x="222" y="649" width="1" height="14" fill="#c0c0c0"/>
<rect x="230" y="649" width="1" height="16" fill="#c0c0c0"/>
<rect x="238" y="649" width="1" height="15" fill="#c0c0c0"/>
<rect x="246" y="649" width="1" height="15" fill="#c0c0c0"/>
<rect x="254" y="649" width="1" height="14" fill="#c0c0c0"/>
<rect x="262" y="649" width="1" height="13" fill="#c0c0c0"/>
<rect x="270" y="649" width="1" height="9" fill="#c0c0c0"/>
<rect x="278" y="649" width="1" height="5" fill="#c0c0c0"/>
<rect x="286" y="649" width="1" height="1" fill="#c0c0c0"/>
<rect x="294" y="643" width="1" height="7" fill="#c0c0c0"/>
<rect x="302" y="640" width="1" height="10" fill="#c0c0c0"/>
<rect x="310" y="637" width="1" height="13" fill="#c0c0c0"/>
<rect x="318" y="632" width="1" height="18" fill="#c0c0c0"/>
<rect x="326" y="628" width="1" height="22" fill="#c0c0c0"/>
<rect x="334" y="623" width="1" height="27" fill="#c0c0c0"/>
<rect x="342" y="619" width="1" height="31" fill="#c0c0c0"/>
<rect x="350" y="616" width="1" height="34" fill="#c0c0c0"/>
<rect x="358" y="615" width="1" height="35" fill="#c0c0c0"/>
<rect x="366" y="613" width="1" height="37" fill="#c0c0c0"/>
<rect x="374" y="611" width="1" height="39" fill="#c0c0c0"/>
<rect x="382" y="609" width="1" height="41" fill="#c0c0c0"/>
<rect x="390" y="606" width="1" height="44" fill="#c0c0c0"/>
<rect x="398" y="604" width="1" height="46" fill="#c0c0c0"/>
<rect x="406" y="604" width="1" height="46" fill="#c0c0c0"/>
<rect x="414" y="606" width="1" height="44" fill="#c0c0c0"/>
<rect x="422" y="606" width="1" height="44" fill="#c0c0c0"/>
<rect x="430" y="610" width="1" height="40" fill="#c0c0c0"/>
<rect x="438" y="613" width="1" height="37" fill="#c0c0c0"/>
<rect x="446" y="616" width="1" height="34" fill="#c0c0c0"/>
<rect x="454" y="619" width="1" height="31" fill="#c0c0c0"/>
<rect x="462" y="620" width="1" height="30" fill="#c0c0c0"/>
<rect x="470" y="621" width="1" height="29" fill="#c0c0c0"/>
<rect x="478" y="622" width="1" height="28" fill="#c0c0c0"/>
<rect x="486" y="625" width="1" height="25" fill="#c0c0c0"/>
<rect x="494" y="628" width="1" height="22" fill="#c0c0c0"/>
<rect x="502" y="629" width="1" height="21" fill="#c0c0c0"/>
<rect x="510" y="630" width="1" height="20" fill="#c0c0c0"/>
<rect x="518" y="632" width="1" height="18" fill="#c0c0c0"/>
<rect x="526" y="632" width="1" height="18" fill="#c0c0c0"/>
<rect x="534" y="630" width="1" height="20" fill="#c0c0c0"/>
<rect x="542" y="629" width="1" height="21" fill="#c0c0c0"/>
<rect x="550" y="630" width="1" height="20" fill="#c0c0c0"/>
<rect x="558" y="645" width="1" height="5" fill="#c0c0c0"/>
<rect x="566" y="649" width="1" height="5" fill="#c0c0c0"/>
<rect x="574" y="649" width="1" height="17" fill="#c0c0c0"/>
<rect x="582" y="649" width="1" height="24" fill="#c0c0c0"/>
<rect x="590" y="649" width="1" height="30" fill="#c0c0c0"/>
<rect x="598" y="649" width="1" height="39" fill="#c0c0c0"/>
<rect x="606" y="649" width="1" height="63" fill="#c0c0c0"/>
<rect x="614" y="649" width="1" height="76" fill="#c0c0c0"/>
<rect x="622" y="649" width="1" height="83" fill="#c0c0c0"/>
<rect x="630" y="649" width="1" height="87" fill="#c0c0c0"/>
<rect x="638" y="649" width="1" height="94" fill="#c0c0c0"/>
<rect x="646" y="649" width="1" height="87" fill="#c0c0c0"/>
<rect x="654" y="649" width="1" height="78" fill="#c0c0c0"/>
<rect x="662" y="649" width="1" height="70" fill="#c0c0c0"/>
<rect x="670" y="649" width="1" height="66" fill="#c0c0c0"/>
<rect x="678" y="649" width="1" height="62" fill="#c0c0c0"/>
<rect x="686" y="649" width="1" height="54" fill="#c0c0c0"/>
<rect x="694" y="649" width="1" height="46" fill="#c0c0c0"/>
<rect x="702" y="649" width="1" height="45" fill="#c0c0c0"/>
<rect x="710" y="649" width="1" height="43" fill="#c0c0c0"/>
<rect x="718" y="649" width="1" height="39" fill="#c0c0c0"/>
<rect x="726" y="649" width="1" height="34" fill="#c0c0c0"/>
<rect x="734" y="649" width="1" height="28" fill="#c0c0c0"/>
<rect x="742" y="649" width="1" height="23" fill="#c0c0c0"/>
<rect x="750" y="649" width="1" height="8" fill="#c0c0c0"/>
<rect x="758" y="644" width="1" height="6" fill="#c0c0c0"/>
<rect x="766" y="633" width="1" height="17" fill="#c0c0c0"/>
<rect x="774" y="625" width="1" height="25" fill="#c0c0c0"/>
<rect x="782" y="620" width="1" height="30" fill="#c0c0c0"/>
<rect x="790" y="616" width="1" height="34" fill="#c0c0c0"/>
<rect x="798" y="614" width="1" height="36" fill="#c0c0c0"/>
<rect x="806" y="613" width="1" height="37" fill="#c0c0c0"/>
<rect x="814" y="614" width="1" height="36" fill="#c0c0c0"/>
<rect x="822" y="617" width="1" height="33" fill="#c0c0c0"/>
<rect x="830" y="619" width="1" height="31" fill="#c0c0c0"/>
<rect x="838" y="622" width="1" height="28" fill="#c0c0c0"/>
<rect x="846" y="629" width="1" height="21" fill="#c0c0c0"/>
<rect x="854" y="629" width="1" height="21" fill="#c0c0c0"/>
<rect x="862" y="630" width="1" height="20" fill="#c0c0c0"/>
<rect x="870" y="632" width="1" height="18" fill="#c0c0c0"/>
<rect x="878" y="634" width="1" height="16" fill="#c0c0c0"/>
<rect x="886" y="636" width="1" height="14" fill="#c0c0c0"/>
<rect x="894" y="638" width="1" height="12" fill="#c0c0c0"/>
<rect x="902" y="642" width="1" height="8" fill="#c0c0c0"/>
<rect x="910" y="641" width="1" height="9" fill="#c0c0c0"/>
<rect x="918" y="639" width="1" height="11" fill="#c0c0c0"/>
<rect x="926" y="638" width="1" height="12" fill="#c0c0c0"/>
<rect x="934" y="638" width="1" height="12" fill="#c0c0c0"/>
<rect x="942" y="638" width="1" height="12" fill="#c0c0c0"/>
<rect x="950" y="627" width="1" height="23" fill="#c0c0c0"/>
<rect x="958" y="621" width="1" height="29" fill="#c0c0c0"/>
<rect x="966" y="610" width="1" height="40" fill="#c0c0c0"/>
<rect x="974" y="603" width="1" height="47" fill="#c0c0c0"/>
<rect x="982" y="597" width="1" height="53" fill="#c0c0c0"/>
<rect x="990" y="593" width="1" height="57" fill="#c0c0c0"/>
<rect x="998" y="598" width="1" height="52" fill="#c0c0c0"/>
<rect x="1006" y="600" width="1" height="50" fill="#c0c0c0"/>
<rect x="1014" y="601" width="1" height="49" fill="#c0c0c0"/>
<rect x="1022" y="603" width="1" height="47" fill="#c0c0c0"/>
<rect x="1030" y="604" width="1" height="46" fill="#c0c0c0"/>
<rect x="1038" y="606" width="1" height="44" fill="#c0c0c0"/>
<rect x="1046" y="606" width="1" height="44" fill="#c0c0c0"/>
<rect x="1054" y="602" width="1" height="48" fill="#c0c0c0"/>
<rect x="1062" y="602" width="1" height="48" fill="#c0c0c0"/>
<rect x="1070" y="604" width="1" height="46" fill="#c0c0c0"/>
<rect x="1078" y="605" width="1" height="45" fill="#c0c0c0"/>
<rect x="1086" y="606" width="1" height="44" fill="#c0c0c0"/>
<rect x="1094" y="609" width="1" height="41" fill="#c0c0c0"/>
<rect x="1102" y="610" width="1" height="40" fill="#c0c0c0"/>
<rect x="1110" y="609" width="1" height="41" fill="#c0c0c0"/>
<rect x="1118" y="610" width="1" height="40" fill="#c0c0c0"/>
<rect x="1126" y="611" width="1" height="39" fill="#c0c0c0"/>
<rect x="1134" y="613" width="1" height="37" fill="#c0c0c0"/>
<rect x="1142" y="614" width="1" height="36" fill="#c0c0c0"/>
<rect x="1150" y="614" width="1" height="36" fill="#c0c0c0"/>
<rect x="1158" y="615" width="1" height="35" fill="#c0c0c0"/>
<rect x="1166" y="617" width="1" height="33" fill="#c0c0c0"/>
<rect x="1174" y="620" width="1" height="30" fill="#c0c0c0"/>
<rect x="1182" y="622" width="1" height="28" fill="#c0c0c0"/>
<rect x="1190" y="622" width="1" height="28" fill="#c0c0c0"/>
<rect x="1198" y="621" width="1" height="29" fill="#c0c0c0"/>
<rect x="1206" y="619" width="1" height="31" fill="#c0c0c0"/>
<rect x="1214" y="616" width="1" height="34" fill="#c0c0c0"/>
<rect x="1222" y="614" width="1" height="36" fill="#c0c0c0"/>
<rect x="1230" y="614" width="1" height="36" fill="#c0c0c0"/>
<rect x="1238" y="612" width="1" height="38" fill="#c0c0c0"/>
<rect x="1246" y="609" width="1" height="41" fill="#c0c0c0"/>
<rect x="1254" y="605" width="1" height="45" fill="#c0c0c0"/>
<rect x="1262" y="605" width="1" height="45" fill="#c0c0c0"/>
<rect x="1270" y="603" width="1" height="47" fill="#c0c0c0"/>
<rect x="1278" y="604" width="1" height="46" fill="#c0c0c0"/>
<rect x="1286" y="605" width="1" height="45" fill="#c0c0c0"/>
<rect x="1294" y="604" width="1" height="46" fill="#c0c0c0"/>
<rect x="1302" y="602" width="1" height="48" fill="#c0c0c0"/>
<rect x="1310" y="601" width="1" height="49" fill="#c0c0c0"/>
<rect x="1318" y="601" width="1" height="49" fill="#c0c0c0"/>
<rect x="1326" y="602" width="1" height="48" fill="#c0c0c0"/>
<rect x="1334" y="603" width="1" height="47" fill="#c0c0c0"/>
<rect x="1342" y="604" width="1" height="46" fill="#c0c0c0"/>
<rect x="1350" y="607" width="1" height="43" fill="#c0c0c0"/>
<rect x="1358" y="611" width="1" height="39" fill="#c0c0c0"/>
<polyline points="-1.5,620.3 6.5,618.6 14.5,617.2 22.5,615.9 30.5,613.7 38.5,611.9 46.5,609.3 54.5,605.8 62.5,603.2 70.5,601.1 78.5,598.0 86.5,596.2 94.5,594.8 102.5,593.8 110.5,593.4 118.5,593.8 126.5,596.2 134.5,599.4 142.5,602.3 150.5,606.7 158.5,610.5 166.5,615.4 174.5,621.0 182.5,628.0 190.5,635.0 198.5,640.7 206.5,646.0 214.5,650.3 222.5,653.8 230.5,657.3 238.5,659.9 246.5,662.2 254.5,663.4 262.5,664.0 270.5,664.0 278.5,662.6 286.5,661.0 294.5,658.7 302.5,656.5 310.5,652.1 318.5,648.6 326.5,644.8 334.5,640.7 342.5,636.4 350.5,632.0 358.5,628.0 366.5,625.0 374.5,622.4 382.5,618.9 390.5,615.9 398.5,612.8 406.5,611.6 414.5,608.4 422.5,607.9 430.5,607.9 438.5,607.9 446.5,607.9 454.5,608.4 462.5,611.1 470.5,612.8 478.5,614.9 486.5,617.2 494.5,618.6 502.5,621.0 510.5,623.3 518.5,624.7 526.5,626.8 534.5,628.0 542.5,628.9 550.5,628.9 558.5,632.0 566.5,635.0 574.5,639.4 582.5,643.7 590.5,649.5 598.5,655.4 606.5,665.6 614.5,675.2 622.5,686.5 630.5,697.0 638.5,706.6 646.5,715.3 654.5,720.6 662.5,725.3 670.5,727.7 678.5,727.7 686.5,725.3 694.5,720.6 702.5,717.1 710.5,711.0 718.5,705.4 726.5,701.9 734.5,696.1 742.5,691.8 750.5,686.2 758.5,679.2 766.5,671.7 774.5,663.8 782.5,656.0 790.5,648.1 798.5,640.2 806.5,634.1 814.5,625.4 822.5,621.6 830.5,619.6 838.5,618.1 846.5,618.1 854.5,619.3 862.5,620.7 870.5,623.3 878.5,624.9 886.5,627.7 894.5,629.9 902.5,631.9 910.5,634.1 918.5,635.9 926.5,637.1 934.5,637.1 942.5,638.0 950.5,637.1 958.5,635.9 966.5,632.9 974.5,628.0 982.5,621.9 990.5,618.4 998.5,614.1 1006.5,609.3 1014.5,605.3 1022.5,603.6 1030.5,601.3 1038.5,600.1 1046.5,601.0 1054.5,601.0 1062.5,601.8 1070.5,603.2 1078.5,603.9 1086.5,603.9 1094.5,605.0 1102.5,605.0 1110.5,605.9 1118.5,605.9 1126.5,606.5 1134.5,608.8 1142.5,609.9 1150.5,610.7 1158.5,611.8 1166.5,611.8 1174.5,613.7 1182.5,614.8 1190.5,615.8 1198.5,616.7 1206.5,617.9 1214.5,617.9 1222.5,617.9 1230.5,617.9 1238.5,617.0 1246.5,616.0 1254.5,614.9 1262.5,612.3 1270.5,611.4 1278.5,609.0 1286.5,607.9 1294.5,606.7 1302.5,604.8 1310.5,603.9 1318.5,602.7 1326.5,602.7 1334.5,602.7 1342.5,602.7 1350.5,602.7 1357.5,604.5" fill="none" stroke="#ff0000" stroke-width="1" stroke-dasharray="3 3"/>
</g>
<g clip-path="url(#c3)">
<path d="M0 789.5 H1617" stroke="#c0c0c0" stroke-width="1" stroke-dasharray="3 3" stroke-dashoffset="1" fill="none"/>
<path d="M0 840.5 H1617" stroke="#c0c0c0" stroke-width="1" stroke-dasharray="3 3" stroke-dashoffset="1" fill="none"/>
<path d="M0 901.5 H1617" stroke="#c0c0c0" stroke-width="1" stroke-dasharray="3 3" stroke-dashoffset="1" fill="none"/>
<polyline points="-1.5,815.7 6.5,818.3 14.5,812.4 22.5,804.9 30.5,803.7 38.5,807.9 46.5,805.8 54.5,798.8 62.5,798.8 70.5,813.1 78.5,809.6 86.5,811.9 94.5,807.9 102.5,805.8 110.5,803.7 118.5,839.8 126.5,837.7 134.5,846.8 142.5,848.0 150.5,849.1 158.5,851.2 166.5,849.9 174.5,860.8 182.5,862.2 190.5,859.9 198.5,862.2 206.5,848.5 214.5,861.1 222.5,847.7 230.5,856.0 238.5,845.6 246.5,848.0 254.5,845.9 262.5,845.9 270.5,833.7 278.5,831.9 286.5,822.1 294.5,819.7 302.5,820.9 310.5,820.9 318.5,813.6 326.5,811.9 334.5,805.8 342.5,803.7 350.5,805.8 358.5,809.6 366.5,804.9 374.5,803.7 382.5,799.6 390.5,796.7 398.5,795.8 406.5,800.9 414.5,814.8 422.5,808.0 430.5,827.1 438.5,825.8 446.5,829.0 454.5,826.7 462.5,822.7 470.5,820.9 478.5,818.9 486.5,831.9 494.5,835.1 502.5,827.1 510.5,827.9 518.5,837.2 526.5,826.7 534.5,814.8 542.5,824.1 550.5,828.5 558.5,873.9 566.5,869.8 574.5,877.9 582.5,866.0 590.5,869.0 598.5,876.8 606.5,895.2 614.5,882.1 622.5,872.6 630.5,874.2 638.5,878.7 646.5,853.4 654.5,849.1 662.5,848.0 670.5,854.1 678.5,852.9 686.5,845.9 694.5,841.9 702.5,853.3 710.5,850.8 718.5,846.3 726.5,843.8 734.5,841.9 742.5,838.6 750.5,820.9 758.5,818.0 766.5,818.0 774.5,818.0 782.5,823.2 790.5,819.7 798.5,826.2 806.5,823.7 814.5,828.5 822.5,835.1 830.5,833.7 838.5,835.1 846.5,849.9 854.5,832.8 862.5,836.0 870.5,838.9 878.5,838.9 886.5,839.8 894.5,839.8 902.5,848.0 910.5,836.0 918.5,832.8 926.5,832.8 934.5,832.8 942.5,831.6 950.5,808.0 958.5,815.9 966.5,805.8 974.5,807.0 982.5,805.8 990.5,807.0 998.5,831.9 1006.5,826.7 1014.5,824.6 1022.5,823.7 1030.5,822.7 1038.5,825.0 1046.5,820.6 1054.5,809.8 1062.5,818.0 1070.5,828.1 1078.5,824.6 1086.5,822.7 1094.5,831.1 1102.5,825.0 1110.5,819.7 1118.5,825.8 1126.5,825.0 1134.5,829.9 1142.5,824.1 1150.5,822.9 1158.5,824.1 1166.5,827.9 1174.5,831.1 1182.5,829.9 1190.5,823.6 1198.5,819.7 1206.5,813.6 1214.5,809.8 1222.5,811.9 1230.5,814.0 1238.5,809.6 1246.5,802.6 1254.5,798.8 1262.5,809.8 1270.5,807.0 1278.5,808.9 1286.5,812.7 1294.5,808.0 1302.5,800.9 1310.5,804.0 1318.5,804.0 1326.5,808.0 1334.5,805.8 1342.5,804.9 1350.5,822.9 1358.5,825.8" fill="none" stroke="#1e90ff" stroke-width="1" />
</g>
<rect x="1618" y="48" width="2" height="1" fill="#000"/>
<rect x="1618" y="81" width="2" height="1" fill="#000"/>
<rect x="1618" y="114" width="2" height="1" fill="#000"/>
<rect x="1618" y="147" width="2" height="1" fill="#000"/>
<rect x="1618" y="180" width="2" height="1" fill="#000"/>
<rect x="1618" y="213" width="2" height="1" fill="#000"/>
<rect x="1618" y="246" width="2" height="1" fill="#000"/>
<rect x="1618" y="279" width="2" height="1" fill="#000"/>
<rect x="1618" y="312" width="2" height="1" fill="#000"/>
<rect x="1618" y="345" width="2" height="1" fill="#000"/>
<rect x="1618" y="378" width="2" height="1" fill="#000"/>
<rect x="1618" y="411" width="2" height="1" fill="#000"/>
<rect x="1618" y="444" width="2" height="1" fill="#000"/>
<rect x="1618" y="477" width="2" height="1" fill="#000"/>
<rect x="1618" y="510" width="2" height="1" fill="#000"/>
<rect x="1618" y="543" width="2" height="1" fill="#000"/>
<rect x="1618" y="576" width="2" height="1" fill="#000"/>
<rect x="1618" y="649" width="2" height="1" fill="#000"/>
<rect x="1618" y="582" width="1" height="1" fill="#000"/>
<rect x="1618" y="750" width="1" height="1" fill="#000"/>
<rect x="1618" y="755" width="1" height="1" fill="#000"/>
<rect x="1618" y="926" width="1" height="1" fill="#000"/>
<rect x="-2" y="928" width="1" height="3" fill="#000"/>
<rect x="62" y="928" width="1" height="3" fill="#000"/>
<rect x="126" y="928" width="1" height="3" fill="#000"/>
<rect x="190" y="928" width="1" height="3" fill="#000"/>
<rect x="254" y="928" width="1" height="3" fill="#000"/>
<rect x="318" y="928" width="1" height="3" fill="#000"/>
<rect x="382" y="928" width="1" height="3" fill="#000"/>
<rect x="446" y="928" width="1" height="3" fill="#000"/>
<rect x="510" y="928" width="1" height="3" fill="#000"/>
<rect x="574" y="928" width="1" height="3" fill="#000"/>
<rect x="638" y="928" width="1" height="3" fill="#000"/>
<rect x="702" y="928" width="1" height="3" fill="#000"/>
<rect x="766" y="928" width="1" height="3" fill="#000"/>
<rect x="830" y="928" width="1" height="3" fill="#000"/>
<rect x="894" y="928" width="1" height="3" fill="#000"/>
<rect x="958" y="928" width="1" height="3" fill="#000"/>
<rect x="1022" y="928" width="1" height="3" fill="#000"/>
<rect x="1086" y="928" width="1" height="3" fill="#000"/>
<rect x="1150" y="928" width="1" height="3" fill="#000"/>
<rect x="1214" y="928" width="1" height="3" fill="#000"/>
<rect x="1278" y="928" width="1" height="3" fill="#000"/>
<rect x="1342" y="928" width="1" height="3" fill="#000"/>
</g>
<text transform="translate(13.04,38.00) scale(0.9241,1)" font-size="10" fill="#000" stroke="#000" stroke-width="0.3" xml:space="preserve">DJ30-,H4</text>
<text transform="translate(57.73,38.00) scale(0.9247,1)" font-size="10" fill="#000" stroke="#000" stroke-width="0.3" xml:space="preserve">28516.0</text>
<text transform="translate(93.94,38.00) scale(0.9077,1)" font-size="10" fill="#000" stroke="#000" stroke-width="0.3" xml:space="preserve">28529.0</text>
<text transform="translate(129.94,38.00) scale(0.9219,1)" font-size="10" fill="#000" stroke="#000" stroke-width="0.3" xml:space="preserve">28496.0</text>
<text transform="translate(166.04,38.00) scale(0.9219,1)" font-size="10" fill="#000" stroke="#000" stroke-width="0.3" xml:space="preserve">28507.0</text>
<text transform="translate(1.82,594.00) scale(0.9495,1)" font-size="10" fill="#000" stroke="#000" stroke-width="0.3" xml:space="preserve">MACD(12,26,9) 65.54 77.74</text>
<text transform="translate(1.53,766.00) scale(0.9385,1)" font-size="10" fill="#000" stroke="#000" stroke-width="0.3" xml:space="preserve">RSI(14) 59.0335</text>
<text transform="translate(1622.93,85.00) scale(0.9247,1)" font-size="10" fill="#000" stroke="#000" stroke-width="0.3" xml:space="preserve">28514.0</text>
<text transform="translate(1622.93,118.00) scale(0.9247,1)" font-size="10" fill="#000" stroke="#000" stroke-width="0.3" xml:space="preserve">28432.0</text>
<text transform="translate(1622.93,151.00) scale(0.9247,1)" font-size="10" fill="#000" stroke="#000" stroke-width="0.3" xml:space="preserve">28350.0</text>
<text transform="translate(1622.93,184.00) scale(0.9247,1)" font-size="10" fill="#000" stroke="#000" stroke-width="0.3" xml:space="preserve">28268.0</text>
<text transform="translate(1622.93,217.00) scale(0.9247,1)" font-size="10" fill="#000" stroke="#000" stroke-width="0.3" xml:space="preserve">28186.0</text>
<text transform="translate(1622.93,250.00) scale(0.9247,1)" font-size="10" fill="#000" stroke="#000" stroke-width="0.3" xml:space="preserve">28104.0</text>
<text transform="translate(1622.93,283.00) scale(0.9247,1)" font-size="10" fill="#000" stroke="#000" stroke-width="0.3" xml:space="preserve">28022.0</text>
<text transform="translate(1622.93,316.00) scale(0.9247,1)" font-size="10" fill="#000" stroke="#000" stroke-width="0.3" xml:space="preserve">27940.0</text>
<text transform="translate(1622.93,349.00) scale(0.9247,1)" font-size="10" fill="#000" stroke="#000" stroke-width="0.3" xml:space="preserve">27858.0</text>
<text transform="translate(1622.93,382.00) scale(0.9247,1)" font-size="10" fill="#000" stroke="#000" stroke-width="0.3" xml:space="preserve">27776.0</text>
<text transform="translate(1622.93,415.00) scale(0.9247,1)" font-size="10" fill="#000" stroke="#000" stroke-width="0.3" xml:space="preserve">27694.0</text>
<text transform="translate(1622.93,448.00) scale(0.9247,1)" font-size="10" fill="#000" stroke="#000" stroke-width="0.3" xml:space="preserve">27612.0</text>
<text transform="translate(1622.93,481.00) scale(0.9247,1)" font-size="10" fill="#000" stroke="#000" stroke-width="0.3" xml:space="preserve">27530.0</text>
<text transform="translate(1622.93,514.00) scale(0.9247,1)" font-size="10" fill="#000" stroke="#000" stroke-width="0.3" xml:space="preserve">27448.0</text>
<text transform="translate(1622.93,547.00) scale(0.9247,1)" font-size="10" fill="#000" stroke="#000" stroke-width="0.3" xml:space="preserve">27366.0</text>
<text transform="translate(1622.93,580.00) scale(0.9247,1)" font-size="10" fill="#000" stroke="#000" stroke-width="0.3" xml:space="preserve">27284.0</text>
<rect x="1619" y="26" width="41" height="11" fill="#ff0000" shape-rendering="crispEdges"/>
<text transform="translate(1622.64,35.00) scale(0.9232,1)" font-size="10" fill="#fff" xml:space="preserve">28635.6</text>
<rect x="1619" y="44" width="41" height="11" fill="#ff0000" shape-rendering="crispEdges"/>
<text transform="translate(1622.64,53.00) scale(0.9241,1)" font-size="10" fill="#fff" xml:space="preserve">28590.9</text>
<rect x="1619" y="64" width="41" height="11" fill="#32cd32" shape-rendering="crispEdges"/>
<text transform="translate(1622.64,73.00) scale(0.9232,1)" font-size="10" fill="#fff" xml:space="preserve">28541.3</text>
<rect x="1619" y="79" width="41" height="11" fill="#000000" shape-rendering="crispEdges"/>
<text transform="translate(1622.64,88.00) scale(0.9219,1)" font-size="10" fill="#fff" xml:space="preserve">28507.0</text>
<rect x="1619" y="98" width="41" height="11" fill="#0000ff" shape-rendering="crispEdges"/>
<text transform="translate(1622.64,107.00) scale(0.9241,1)" font-size="10" fill="#fff" xml:space="preserve">28456.9</text>
<rect x="1619" y="115" width="41" height="11" fill="#0000ff" shape-rendering="crispEdges"/>
<text transform="translate(1622.63,124.00) scale(0.9248,1)" font-size="10" fill="#fff" xml:space="preserve">28414.7</text>
<text transform="translate(1621.20,592.00) scale(0.9174,1)" font-size="10" fill="#000" stroke="#000" stroke-width="0.3" xml:space="preserve">112.17</text>
<text transform="translate(1621.34,653.00) scale(0.9207,1)" font-size="10" fill="#000" stroke="#000" stroke-width="0.3" xml:space="preserve">0.00</text>
<text transform="translate(1620.39,747.70) scale(0.9312,1)" font-size="10" fill="#000" stroke="#000" stroke-width="0.3" xml:space="preserve">-170.97</text>
<text transform="translate(1621.21,764.00) scale(0.9078,1)" font-size="10" fill="#000" stroke="#000" stroke-width="0.3" xml:space="preserve">100</text>
<text transform="translate(1620.02,793.00) scale(0.8643,1)" font-size="10" fill="#000" stroke="#000" stroke-width="0.3" xml:space="preserve">80</text>
<text transform="translate(1620.06,844.00) scale(0.8614,1)" font-size="10" fill="#000" stroke="#000" stroke-width="0.3" xml:space="preserve">50</text>
<text transform="translate(1620.33,905.50) scale(0.8751,1)" font-size="10" fill="#000" stroke="#000" stroke-width="0.3" xml:space="preserve">15</text>
<text transform="translate(1620.70,924.00) scale(1.0250,1)" font-size="10" fill="#000" stroke="#000" stroke-width="0.3" xml:space="preserve">0</text>
<text transform="translate(-3.24,940) scale(0.9685,1)" font-size="10" fill="#000" stroke="#000" stroke-width="0.3">15 Nov 2019</text>
<text transform="translate(60.76,940) scale(0.9685,1)" font-size="10" fill="#000" stroke="#000" stroke-width="0.3">18 Nov 08:00</text>
<text transform="translate(124.76,940) scale(0.9685,1)" font-size="10" fill="#000" stroke="#000" stroke-width="0.3">19 Nov 16:00</text>
<text transform="translate(189.01,940) scale(0.9685,1)" font-size="10" fill="#000" stroke="#000" stroke-width="0.3">21 Nov 00:00</text>
<text transform="translate(253.01,940) scale(0.9685,1)" font-size="10" fill="#000" stroke="#000" stroke-width="0.3">22 Nov 08:00</text>
<text transform="translate(317.01,940) scale(0.9685,1)" font-size="10" fill="#000" stroke="#000" stroke-width="0.3">25 Nov 12:00</text>
<text transform="translate(381.01,940) scale(0.9685,1)" font-size="10" fill="#000" stroke="#000" stroke-width="0.3">26 Nov 20:00</text>
<text transform="translate(445.01,940) scale(0.9685,1)" font-size="10" fill="#000" stroke="#000" stroke-width="0.3">28 Nov 04:00</text>
<text transform="translate(509.01,940) scale(0.9685,1)" font-size="10" fill="#000" stroke="#000" stroke-width="0.3">29 Nov 12:00</text>
<text transform="translate(573.01,940) scale(0.9685,1)" font-size="10" fill="#000" stroke="#000" stroke-width="0.3">2 Dec 20:00</text>
<text transform="translate(637.28,940) scale(0.9685,1)" font-size="10" fill="#000" stroke="#000" stroke-width="0.3">4 Dec 04:00</text>
<text transform="translate(701.11,940) scale(0.9685,1)" font-size="10" fill="#000" stroke="#000" stroke-width="0.3">5 Dec 12:00</text>
<text transform="translate(765.01,940) scale(0.9685,1)" font-size="10" fill="#000" stroke="#000" stroke-width="0.3">6 Dec 20:00</text>
<text transform="translate(828.76,940) scale(0.9685,1)" font-size="10" fill="#000" stroke="#000" stroke-width="0.3">10 Dec 00:00</text>
<text transform="translate(892.76,940) scale(0.9685,1)" font-size="10" fill="#000" stroke="#000" stroke-width="0.3">11 Dec 08:00</text>
<text transform="translate(956.76,940) scale(0.9685,1)" font-size="10" fill="#000" stroke="#000" stroke-width="0.3">12 Dec 16:00</text>
<text transform="translate(1020.76,940) scale(0.9685,1)" font-size="10" fill="#000" stroke="#000" stroke-width="0.3">15 Dec 23:00</text>
<text transform="translate(1084.76,940) scale(0.9685,1)" font-size="10" fill="#000" stroke="#000" stroke-width="0.3">17 Dec 04:00</text>
<text transform="translate(1148.76,940) scale(0.9685,1)" font-size="10" fill="#000" stroke="#000" stroke-width="0.3">18 Dec 12:00</text>
<text transform="translate(1212.76,940) scale(0.9685,1)" font-size="10" fill="#000" stroke="#000" stroke-width="0.3">19 Dec 20:00</text>
<text transform="translate(1277.01,940) scale(0.9685,1)" font-size="10" fill="#000" stroke="#000" stroke-width="0.3">23 Dec 00:00</text>
<text transform="translate(1341.01,940) scale(0.9685,1)" font-size="10" fill="#000" stroke="#000" stroke-width="0.3">24 Dec 08:00</text>
<text transform="translate(1474.30,79.00) scale(0.9339,1)" font-size="21.2" fill="#ff0000" xml:space="preserve">28541.3</text>
<text transform="translate(1421.50,157.40) scale(1,0.955)" font-size="32.6" fill="#0c2800" style="font-family:'Liberation Serif','Noto Serif CJK SC',serif;">多空转折点</text>
<text transform="translate(1420.50,156.40) scale(1,0.955)" font-size="32.6" fill="#00ff00" style="font-family:'Liberation Serif','Noto Serif CJK SC',serif;">多空转折点</text>
<defs><linearGradient id="gtab" x1="0" y1="0" x2="0" y2="1"><stop offset="0" stop-color="#f85252"/><stop offset="1" stop-color="#e23434"/></linearGradient><linearGradient id="gblk" x1="0" y1="0" x2="0" y2="1"><stop offset="0" stop-color="#dc2c2c"/><stop offset="1" stop-color="#b00000"/></linearGradient><linearGradient id="gbtn" x1="0" y1="0" x2="0" y2="1"><stop offset="0" stop-color="#f4f4f4"/><stop offset="0.5" stop-color="#e2e2e2"/><stop offset="0.5" stop-color="#d4d4d4"/><stop offset="1" stop-color="#cccccc"/></linearGradient><linearGradient id="gclock" x1="0" y1="0" x2="0" y2="1"><stop offset="0" stop-color="#3aa0f0"/><stop offset="1" stop-color="#0a4cb0"/></linearGradient><linearGradient id="ggold" x1="0" y1="0" x2="1" y2="1"><stop offset="0" stop-color="#f8d860"/><stop offset="1" stop-color="#c08818"/></linearGradient><radialGradient id="glens"><stop offset="0" stop-color="#ffffff"/><stop offset="1" stop-color="#c4e0f4"/></radialGradient></defs>
<g shape-rendering="crispEdges">
<rect x="0" y="0" width="1664" height="21" fill="#f0f0f0"/>
<rect x="0" y="21" width="1664" height="1" fill="#d2d2d2"/>
<rect x="0" y="22" width="1664" height="1" fill="#989898"/>
<rect x="0" y="23" width="1663" height="1" fill="#6e6e6e"/>
<rect x="1662" y="24" width="1" height="921" fill="#f6f6f6"/><rect x="1663" y="23" width="1" height="922" fill="#dcdcdc"/>
<rect x="253" y="0" width="24" height="20" fill="#f9f9f9"/>
<rect x="405" y="0" width="24" height="20" fill="#f9f9f9"/>
<rect x="433" y="0" width="24" height="20" fill="#f9f9f9"/>
<rect x="593" y="0" width="24" height="20" fill="#f9f9f9"/>
<rect x="1039" y="0" width="24" height="20" fill="#f9f9f9"/>
<rect x="214" y="0" width="1" height="20" fill="#a0a0a0"/>
<rect x="252" y="0" width="1" height="20" fill="#a0a0a0"/>
<rect x="309" y="0" width="1" height="20" fill="#a0a0a0"/>
<rect x="399" y="0" width="1" height="20" fill="#a0a0a0"/>
<rect x="404" y="0" width="1" height="20" fill="#a0a0a0"/>
<rect x="432" y="0" width="1" height="20" fill="#a0a0a0"/>
<rect x="461" y="0" width="1" height="20" fill="#a0a0a0"/>
<rect x="582" y="0" width="1" height="20" fill="#a0a0a0"/>
<rect x="592" y="0" width="1" height="20" fill="#a0a0a0"/>
<rect x="649" y="0" width="1" height="20" fill="#a0a0a0"/>
<rect x="888" y="0" width="1" height="20" fill="#a0a0a0"/>
<rect x="1038" y="0" width="1" height="20" fill="#a0a0a0"/>
<rect x="1149" y="0" width="1" height="20" fill="#a0a0a0"/>
<rect x="215" y="0" width="1" height="21" fill="#ffffff"/>
<rect x="583" y="0" width="1" height="21" fill="#ffffff"/>
<rect x="889" y="0" width="1" height="21" fill="#ffffff"/>
<rect x="218" y="1" width="3" height="1" fill="#b4b4b4"/>
<rect x="218" y="3" width="3" height="1" fill="#b4b4b4"/>
<rect x="218" y="5" width="3" height="1" fill="#b4b4b4"/>
<rect x="218" y="7" width="3" height="1" fill="#b4b4b4"/>
<rect x="218" y="9" width="3" height="1" fill="#b4b4b4"/>
<rect x="218" y="11" width="3" height="1" fill="#b4b4b4"/>
<rect x="218" y="13" width="3" height="1" fill="#b4b4b4"/>
<rect x="218" y="15" width="3" height="1" fill="#b4b4b4"/>
<rect x="218" y="17" width="3" height="1" fill="#b4b4b4"/>
<rect x="218" y="19" width="3" height="1" fill="#b4b4b4"/>
<rect x="586" y="1" width="3" height="1" fill="#b4b4b4"/>
<rect x="586" y="3" width="3" height="1" fill="#b4b4b4"/>
<rect x="586" y="5" width="3" height="1" fill="#b4b4b4"/>
<rect x="586" y="7" width="3" height="1" fill="#b4b4b4"/>
<rect x="586" y="9" width="3" height="1" fill="#b4b4b4"/>
<rect x="586" y="11" width="3" height="1" fill="#b4b4b4"/>
<rect x="586" y="13" width="3" height="1" fill="#b4b4b4"/>
<rect x="586" y="15" width="3" height="1" fill="#b4b4b4"/>
<rect x="586" y="17" width="3" height="1" fill="#b4b4b4"/>
<rect x="586" y="19" width="3" height="1" fill="#b4b4b4"/>
<rect x="892" y="1" width="3" height="1" fill="#b4b4b4"/>
<rect x="892" y="3" width="3" height="1" fill="#b4b4b4"/>
<rect x="892" y="5" width="3" height="1" fill="#b4b4b4"/>
<rect x="892" y="7" width="3" height="1" fill="#b4b4b4"/>
<rect x="892" y="9" width="3" height="1" fill="#b4b4b4"/>
<rect x="892" y="11" width="3" height="1" fill="#b4b4b4"/>
<rect x="892" y="13" width="3" height="1" fill="#b4b4b4"/>
<rect x="892" y="15" width="3" height="1" fill="#b4b4b4"/>
<rect x="892" y="17" width="3" height="1" fill="#b4b4b4"/>
<rect x="892" y="19" width="3" height="1" fill="#b4b4b4"/>
<rect x="0" y="5" width="1" height="14" fill="#b8b8b8"/><rect x="0" y="12" width="4" height="3" fill="#18c018"/>
<rect x="232" y="4" width="1" height="14" fill="#505050"/><rect x="230" y="15" width="14" height="1" fill="#505050"/><rect x="231" y="5" width="3" height="1" fill="#505050"/><rect x="242" y="14" width="1" height="3" fill="#505050"/>
<rect x="238" y="5" width="1" height="9" fill="#008000"/><rect x="236" y="12" width="2" height="1" fill="#008000"/><rect x="239" y="6" width="2" height="1" fill="#008000"/>
<rect x="260" y="4" width="1" height="14" fill="#505050"/><rect x="258" y="15" width="14" height="1" fill="#505050"/><rect x="259" y="5" width="3" height="1" fill="#505050"/><rect x="270" y="14" width="1" height="3" fill="#505050"/>
<rect x="266" y="2" width="1" height="12" fill="#008000"/><rect x="264" y="4" width="5" height="8" fill="#008000"/><rect x="265" y="5" width="3" height="6" fill="#40e040"/>
<rect x="288" y="4" width="1" height="14" fill="#505050"/><rect x="286" y="15" width="14" height="1" fill="#505050"/><rect x="287" y="5" width="3" height="1" fill="#505050"/><rect x="298" y="14" width="1" height="3" fill="#505050"/>
</g>
<path d="M287 12.5 Q291 7 293.5 7.5 T298.5 11" fill="none" stroke="#208020" stroke-width="1.2"/>
<path d="M328.3 12.2 L333.0 17" stroke="#c89818" stroke-width="2.6" stroke-linecap="round"/><circle cx="324.0" cy="8" r="5.3" fill="url(#glens)" stroke="#3c80cc" stroke-width="1.4"/><rect x="321.0" y="7.3" width="6" height="1.6" fill="#3a7ab4"/><rect x="323.2" y="5" width="1.6" height="6" fill="#3a7ab4"/>
<path d="M356.5 12.2 L361.2 17" stroke="#c89818" stroke-width="2.6" stroke-linecap="round"/><circle cx="352.2" cy="8" r="5.3" fill="url(#glens)" stroke="#3c80cc" stroke-width="1.4"/><rect x="349.2" y="7.3" width="6" height="1.6" fill="#3a7ab4"/>
<g shape-rendering="crispEdges">
<rect x="374" y="2" width="8" height="8" fill="#30a020"/><rect x="375" y="5" width="6" height="4" fill="#f4f8ff"/><rect x="376" y="6" width="4" height="1" fill="#30a020" opacity="0.5"/>
<rect x="382" y="2" width="8" height="8" fill="#2058d0"/><rect x="383" y="5" width="6" height="4" fill="#f4f8ff"/><rect x="384" y="6" width="4" height="1" fill="#2058d0" opacity="0.5"/>
<rect x="374" y="10" width="8" height="8" fill="#2058d0"/><rect x="375" y="13" width="6" height="4" fill="#f4f8ff"/><rect x="376" y="14" width="4" height="1" fill="#2058d0" opacity="0.5"/>
<rect x="382" y="10" width="8" height="8" fill="#30a020"/><rect x="383" y="13" width="6" height="4" fill="#f4f8ff"/><rect x="384" y="14" width="4" height="1" fill="#30a020" opacity="0.5"/>
<rect x="412" y="4" width="1" height="14" fill="#505050"/><rect x="410" y="15" width="14" height="1" fill="#505050"/><rect x="411" y="5" width="3" height="1" fill="#505050"/><rect x="422" y="14" width="1" height="3" fill="#505050"/>
</g>
<path d="M417.3 6.3 L421.3 9.7 L417.3 13 Z" fill="#60e060" stroke="#109010" stroke-width="1"/>
<g shape-rendering="crispEdges"><rect x="440" y="4" width="1" height="14" fill="#505050"/><rect x="438" y="15" width="14" height="1" fill="#505050"/><rect x="439" y="5" width="3" height="1" fill="#505050"/><rect x="450" y="14" width="1" height="3" fill="#505050"/><rect x="446" y="4" width="1" height="10" fill="#2060a0"/></g>
<path d="M448 9.5 L451 7 V12 Z M450 9 H453 V10 H450Z" fill="#e04000"/>
<path d="M471.5 3 H479 L482 6 V15 H471.5 Z" fill="#fcfcfc" stroke="#909090" stroke-width="1"/><path d="M474.5 5 Q473 9 474.5 13" stroke="#606060" fill="none" stroke-width="0.8"/>
<path d="M479 8 H483 V12 H487 V16 H483 V19.5 H479 V16 H475 V12 H479 Z" fill="#30d030" stroke="#108810" stroke-width="0.8"/>
<path d="M493.0 9 H499.0 L496.0 12.2 Z" fill="#000"/>
<circle cx="517" cy="9.8" r="6.4" fill="#fcfcfc" stroke="url(#gclock)" stroke-width="3.1"/><circle cx="517" cy="9.8" r="7.9" fill="none" stroke="#0a3c98" stroke-width="0.5" opacity="0.6"/>
<path d="M517 5.4 V6.4 M517 13.2 V14.2 M512.6 9.8 H513.6 M520.4 9.8 H521.4" stroke="#909090" stroke-width="0.8"/><path d="M516.8 6.2 V10 H519.6" stroke="#101010" stroke-width="1.1" fill="none"/>
<path d="M531.5 9 H537.5 L534.5 12.2 Z" fill="#000"/>
<rect x="548.5" y="3.5" width="15" height="13" fill="#fdfdfd" stroke="#3a78c8" stroke-width="1"/><rect x="549" y="4" width="14" height="2" fill="#5a98e0"/><rect x="549" y="10.5" width="14" height="1" fill="#3a78c8"/>
<path d="M550.5 9 L553 8.3 L555.5 7.2 L558 8.2 L562 7" stroke="#a02010" stroke-width="1.2" fill="none"/><path d="M551 14.3 L553.5 13.8 L555.5 14.3 L559 12.3 L562 14.5" stroke="#109020" stroke-width="1.2" fill="none"/>
<path d="M570.5 9 H576.5 L573.5 12.2 Z" fill="#000"/>
<path d="M600 3 V14.2 L602.6 11.8 L605 17.2 L607.2 16.2 L604.8 11 L608.3 10.7 Z" fill="#505050"/>
<g shape-rendering="crispEdges"><rect x="632" y="3" width="1" height="6" fill="#505050"/><rect x="632" y="12" width="1" height="6" fill="#505050"/><rect x="625" y="10" width="6" height="1" fill="#505050"/><rect x="634" y="10" width="6" height="1" fill="#505050"/>
<rect x="666" y="4" width="1" height="13" fill="#505050"/><rect x="689" y="10" width="12" height="1" fill="#505050"/></g>
<path d="M717 17 L729 5" stroke="#505050" stroke-width="1.1"/>
<path d="M742.6 11.8 L756 2.8 M745 16.4 L757.6 7.6 M746.4 8.6 L748.2 15 M749.8 6.4 L751.6 12.8 M753.2 3.6 L755 10.2" stroke="#484848" stroke-width="1.15" fill="none"/>
<text x="753.6" y="19" font-size="7" font-weight="bold" fill="#404040">E</text>
<g shape-rendering="crispEdges">
<rect x="772" y="3" width="1" height="1" fill="#505050"/>
<rect x="774" y="3" width="1" height="1" fill="#505050"/>
<rect x="776" y="3" width="1" height="1" fill="#505050"/>
<rect x="778" y="3" width="1" height="1" fill="#505050"/>
<rect x="780" y="3" width="1" height="1" fill="#505050"/>
<rect x="782" y="3" width="1" height="1" fill="#505050"/>
<rect x="784" y="3" width="1" height="1" fill="#505050"/>
<rect x="772" y="6" width="1" height="1" fill="#505050"/>
<rect x="774" y="6" width="1" height="1" fill="#505050"/>
<rect x="776" y="6" width="1" height="1" fill="#505050"/>
<rect x="778" y="6" width="1" height="1" fill="#505050"/>
<rect x="780" y="6" width="1" height="1" fill="#505050"/>
<rect x="782" y="6" width="1" height="1" fill="#505050"/>
<rect x="784" y="6" width="1" height="1" fill="#505050"/>
<rect x="772" y="10" width="1" height="1" fill="#505050"/>
<rect x="774" y="10" width="1" height="1" fill="#505050"/>
<rect x="776" y="10" width="1" height="1" fill="#505050"/>
<rect x="778" y="10" width="1" height="1" fill="#505050"/>
<rect x="780" y="10" width="1" height="1" fill="#505050"/>
<rect x="782" y="10" width="1" height="1" fill="#505050"/>
<rect x="784" y="10" width="1" height="1" fill="#505050"/>
<rect x="772" y="14" width="1" height="1" fill="#505050"/>
<rect x="774" y="14" width="1" height="1" fill="#505050"/>
<rect x="776" y="14" width="1" height="1" fill="#505050"/>
<rect x="778" y="14" width="1" height="1" fill="#505050"/>
<rect x="780" y="14" width="1" height="1" fill="#505050"/>
</g>
<text x="781.6" y="19" font-size="7" font-weight="bold" fill="#404040">F</text>
<text transform="translate(802.98,15.00) scale(0.9096,1)" font-size="12.6" fill="#505050" xml:space="preserve">A</text>
<g shape-rendering="crispEdges">
<rect x="829" y="4" width="1" height="1" fill="#505050"/><rect x="829" y="16" width="1" height="1" fill="#505050"/>
<rect x="831" y="4" width="1" height="1" fill="#505050"/><rect x="831" y="16" width="1" height="1" fill="#505050"/>
<rect x="833" y="4" width="1" height="1" fill="#505050"/><rect x="833" y="16" width="1" height="1" fill="#505050"/>
<rect x="835" y="4" width="1" height="1" fill="#505050"/><rect x="835" y="16" width="1" height="1" fill="#505050"/>
<rect x="837" y="4" width="1" height="1" fill="#505050"/><rect x="837" y="16" width="1" height="1" fill="#505050"/>
<rect x="839" y="4" width="1" height="1" fill="#505050"/><rect x="839" y="16" width="1" height="1" fill="#505050"/>
<rect x="841" y="4" width="1" height="1" fill="#505050"/><rect x="841" y="16" width="1" height="1" fill="#505050"/>
<rect x="829" y="4" width="1" height="1" fill="#505050"/><rect x="841" y="4" width="1" height="1" fill="#505050"/>
<rect x="829" y="6" width="1" height="1" fill="#505050"/><rect x="841" y="6" width="1" height="1" fill="#505050"/>
<rect x="829" y="8" width="1" height="1" fill="#505050"/><rect x="841" y="8" width="1" height="1" fill="#505050"/>
<rect x="829" y="10" width="1" height="1" fill="#505050"/><rect x="841" y="10" width="1" height="1" fill="#505050"/>
<rect x="829" y="12" width="1" height="1" fill="#505050"/><rect x="841" y="12" width="1" height="1" fill="#505050"/>
<rect x="829" y="14" width="1" height="1" fill="#505050"/><rect x="841" y="14" width="1" height="1" fill="#505050"/>
<rect x="829" y="16" width="1" height="1" fill="#505050"/><rect x="841" y="16" width="1" height="1" fill="#505050"/>
</g>
<rect x="831.2" y="6.4" width="8.4" height="1.5" fill="#505050"/><rect x="834.6" y="6.4" width="1.6" height="8.2" fill="#505050"/>
<path d="M859.5 3.6 L863.3 7.4 H855.7 Z M856.3 8 H862.7 L859.5 9.6Z" fill="#404040"/><path d="M866.5 17.4 L862.7 13.6 H870.3 Z M863.3 13 H869.7 L866.5 11.4Z" fill="#404040"/><path d="M858.3 10.6 L860.6 12.9 L865.6 7.9" stroke="#404040" stroke-width="1.5" fill="none"/>
<path d="M877.0 9 H883.0 L880.0 12.2 Z" fill="#000"/>
<text transform="translate(902.37,14.00) scale(0.9973,1)" font-size="10.2" fill="#404040" xml:space="preserve">M1</text>
<text transform="translate(930.87,14.00) scale(0.9919,1)" font-size="10.2" fill="#404040" xml:space="preserve">M5</text>
<text transform="translate(956.71,14.00) scale(0.9420,1)" font-size="10.2" fill="#404040" xml:space="preserve">M15</text>
<text transform="translate(984.71,14.00) scale(0.9405,1)" font-size="10.2" fill="#404040" xml:space="preserve">M30</text>
<text transform="translate(1015.14,14.00) scale(1.0253,1)" font-size="10.2" fill="#404040" xml:space="preserve">H1</text>
<text transform="translate(1042.86,14.00) scale(1.0081,1)" font-size="10.2" fill="#404040" xml:space="preserve">H4</text>
<text transform="translate(1071.68,14.00) scale(0.9826,1)" font-size="10.2" fill="#404040" xml:space="preserve">D1</text>
<text transform="translate(1099.96,14.00) scale(0.9284,1)" font-size="10.2" fill="#404040" xml:space="preserve">W1</text>
<text transform="translate(1125.86,14.00) scale(1.0074,1)" font-size="10.2" fill="#404040" xml:space="preserve">MN</text>
<path d="M1616.6 10.4 L1611.8 14.8" stroke="#2060d0" stroke-width="2.4" stroke-linecap="round"/><circle cx="1619.5" cy="7.4" r="3.9" fill="#f8f8ff" stroke="#2060d0" stroke-width="1.2"/>
<path d="M1654.5 11 L1656 13.8 L1652 11.4Z" fill="#606060"/><ellipse cx="1652.3" cy="7" rx="6.2" ry="4.6" fill="#f8f8f8" stroke="#909090" stroke-width="0.9"/>
<path d="M1641 14 L1640.3 16.8 L1644 14.4Z" fill="#606060"/><ellipse cx="1643" cy="11" rx="5" ry="3.6" fill="#f4f4f8" stroke="#909090" stroke-width="0.9"/>
<path d="M55.3 11.6 Q57 7 59.8 3.2 Q65 6 70.6 10.4 L64.6 17.6 Q59.5 15.5 55.3 11.6 Z" fill="url(#ggold)" stroke="#b07c14" stroke-width="0.8"/>
<path d="M58 10.5 Q60 7 61.5 5.5 Q64.5 7.5 67 9.8 L63.5 14 Q60.5 12.5 58 10.5Z" fill="#ffe978" opacity="0.75"/>
<path d="M64.6 17.6 L70.6 10.4 L71.4 11.8 L65.6 18.6 Z" fill="#f4ecd0" stroke="#8a5c10" stroke-width="0.6"/>
<path d="M85.5 2.5 H95 L97 4.5 V12 H87.5 L85.5 10 Z" fill="#2c8cf0"/><rect x="88.5" y="5.5" width="7.5" height="6" fill="#d8ecfc"/><path d="M86.5 17.5 Q83 17.5 83.5 14.8 Q84 12.5 87 13 Q88.5 10.5 91.5 11.8 Q94 10.5 96 12.8 Q99.5 12.5 99 15.5 Q98.8 17.5 96 17.5 Z" fill="#f0f4fc" stroke="#7088b8" stroke-width="0.8"/>
<circle cx="119" cy="9.5" r="7.5" fill="none" stroke="#88b0e0" stroke-width="1.2" opacity="0.8"/><circle cx="119" cy="9.5" r="4.6" fill="none" stroke="#5890d8" stroke-width="1.3"/><path d="M119 9.5 L119 17.5 A8 8 0 0 0 126.8 9.5 A8 8 0 0 0 125 5 Z" fill="#70b870" opacity="0.55"/><circle cx="119" cy="9.2" r="1.7" fill="#2858c8"/><rect x="118.4" y="10" width="1.4" height="7.6" fill="#18a018"/>
<path d="M139 8.5 L153 8 L147 17.5 Z" fill="#f4d040" stroke="#c8a020" stroke-width="0.6"/><ellipse cx="146" cy="7.3" rx="7.6" ry="2.6" fill="#58a8e0"/><ellipse cx="146" cy="5.2" rx="3.8" ry="3.1" fill="#68b8ec"/>
<circle cx="150.6" cy="13.8" r="4.1" fill="#e02810"/><rect x="148.9" y="12.1" width="3.4" height="3.4" fill="#fff"/>
<text x="7" y="13.3" font-size="12" fill="#000" style="font-family:'Liberation Sans','Noto Sans CJK SC',sans-serif;">新订单</text>
<text x="159.2" y="13.3" font-size="12" fill="#000" letter-spacing="-0.25" style="font-family:'Liberation Sans','Noto Sans CJK SC',sans-serif;">自动交易</text>
<g shape-rendering="crispEdges">
<rect x="1" y="46" width="219" height="64" fill="#fff"/>
<rect x="1" y="46" width="52" height="25" fill="url(#gtab)"/>
<rect x="168" y="46" width="52" height="25" fill="url(#gtab)"/>
<rect x="1" y="70" width="109" height="40" fill="url(#gblk)"/>
<rect x="112" y="70" width="108" height="40" fill="url(#gblk)"/>
<path d="M1.5 109.5 V46.5 H52.5 V70" fill="none" stroke="#c81818" stroke-width="1"/>
<path d="M219.5 109.5 V46.5 H168.5 V70" fill="none" stroke="#c81818" stroke-width="1"/>
<rect x="1" y="109" width="109" height="1" fill="#a80000"/><rect x="112" y="109" width="108" height="1" fill="#a80000"/>
<rect x="5" y="69" width="44" height="1" fill="#a00808"/><rect x="5" y="70" width="44" height="1" fill="#f06060"/>
<rect x="172" y="69" width="44" height="1" fill="#a00808"/><rect x="172" y="70" width="44" height="1" fill="#f06060"/>
<rect x="55.5" y="46.5" width="110" height="21" fill="#fff" stroke="#a8acb8" stroke-width="1"/>
<rect x="57" y="48" width="19" height="18" fill="url(#gbtn)"/><rect x="76" y="47" width="1" height="20" fill="#a8acb8"/>
<rect x="145" y="48" width="19" height="18" fill="url(#gbtn)"/><rect x="144" y="47" width="1" height="20" fill="#a8acb8"/>
</g>
<path d="M63.2 55.5 H68.8 L66 58.5 Z" fill="#4860c0"/><path d="M151.2 58.5 H156.8 L154 55.3 Z" fill="#4860c0"/>
<text transform="translate(12.71,62.00) scale(0.8317,1)" font-size="13" fill="#fff" xml:space="preserve">SELL</text>
<text transform="translate(180.75,62.00) scale(0.8905,1)" font-size="13" fill="#fff" xml:space="preserve">BUY</text>
<text transform="translate(116.87,61.00) scale(0.9709,1)" font-size="12.6" fill="#000" stroke="#000" stroke-width="0.3" xml:space="preserve">1.00</text>
<text transform="translate(16.97,101.00) scale(1.0222,1)" font-size="12.2" fill="#fff" font-weight="bold" xml:space="preserve">28505</text>
<text transform="translate(126.77,101.00) scale(1.0132,1)" font-size="12.2" fill="#fff" font-weight="bold" xml:space="preserve">28515</text>
<rect x="56.2" y="97.3" width="4.7" height="3.7" rx="0.8" fill="#fff"/><rect x="167" y="97.3" width="4.7" height="3.7" rx="0.8" fill="#fff"/>
<text transform="translate(63.25,101.20) scale(0.8196,1)" font-size="35" fill="#fff" xml:space="preserve">5</text>
<text transform="translate(174.87,101.20) scale(0.8075,1)" font-size="35" fill="#fff" xml:space="preserve">5</text>
</svg>
</body></html>
